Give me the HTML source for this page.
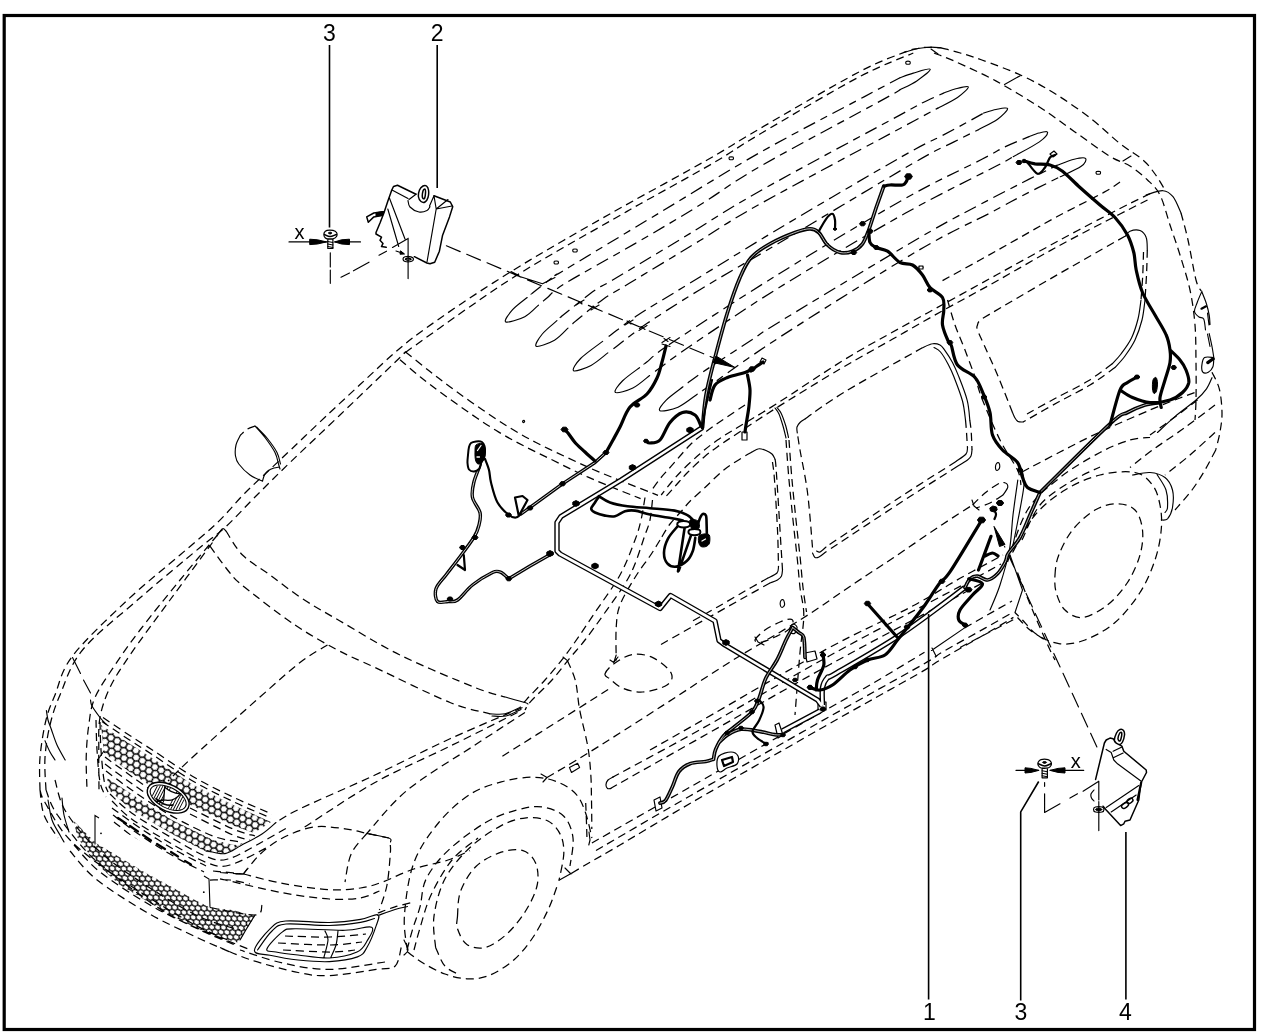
<!DOCTYPE html>
<html><head><meta charset="utf-8"><title>Wiring harness</title>
<style>
html,body{margin:0;padding:0;background:#fff;}
body{width:1280px;height:1033px;overflow:hidden;font-family:"Liberation Sans",sans-serif;}
svg{display:block;position:absolute;left:0;top:0;will-change:transform;}
text{font-family:"Liberation Sans",sans-serif;fill:#000;}
</style></head><body>
<svg width="1280" height="1033" viewBox="0 0 1280 1033">
<rect x="0" y="0" width="1280" height="1033" fill="#fff"/>
<rect x="4.2" y="15.5" width="1250.3" height="1014" fill="none" stroke="#000" stroke-width="3.2"/>
<path fill="none" stroke="#000" stroke-width="1.25" stroke-dasharray="8 5" d="M40.0 790.0C40.0 784.6 39.0 769.2 40.0 757.5C41.0 745.8 43.5 730.4 46.0 720.0C48.5 709.6 50.6 705.7 55.0 695.0C59.4 684.3 60.4 671.8 72.5 656.0C84.6 640.2 109.6 616.8 127.5 600.0C145.4 583.2 165.0 567.9 180.0 555.0C195.0 542.1 206.7 532.8 217.5 522.5C228.3 512.2 234.6 503.4 245.0 493.0C255.4 482.6 265.8 473.4 280.0 460.0C294.2 446.6 315.8 425.8 330.0 412.5C344.2 399.2 354.2 390.0 365.0 380.0C375.8 370.0 385.8 360.4 395.0 352.5C404.2 344.6 408.9 340.6 420.0 332.5C431.1 324.4 446.0 313.9 461.3 303.7C476.6 293.4 495.1 281.5 512.0 271.0C529.0 260.5 544.3 251.5 563.0 240.7C581.7 229.9 599.8 219.5 624.0 206.0C648.2 192.5 685.3 172.4 708.0 159.5C730.7 146.6 735.0 143.0 760.0 128.5C785.0 114.0 833.9 85.2 858.0 72.5C882.1 59.8 894.6 56.2 904.6 52.2C914.6 48.2 914.3 49.3 918.0 48.5C921.7 47.7 923.2 47.4 927.0 47.3C930.8 47.2 938.7 47.7 941.0 47.8M46.0 790.0C45.8 784.6 44.3 768.3 45.0 757.5C45.7 746.7 47.5 735.4 50.0 725.0C52.5 714.6 54.6 707.5 60.0 695.0C65.4 682.5 69.6 665.8 82.5 650.0C95.4 634.2 117.9 617.1 137.5 600.0C157.1 582.9 185.4 559.6 200.0 547.5C214.6 535.4 215.8 535.9 225.0 527.5C234.2 519.1 244.2 507.8 255.0 497.0C265.8 486.2 275.8 476.2 290.0 462.5C304.2 448.8 321.7 432.5 340.0 415.0C358.3 397.5 389.3 367.8 400.0 357.5C410.7 347.2 403.3 353.8 404.0 353.0M405.4 352.4C415.4 345.3 447.3 322.4 465.4 309.8C483.5 297.2 497.7 287.3 514.0 277.0C530.3 266.7 544.7 258.4 563.0 247.8C581.3 237.2 611.2 220.5 624.0 213.2C636.8 205.9 625.1 212.4 640.0 204.0C654.9 195.6 693.3 174.7 713.3 163.0C733.3 151.3 735.9 148.2 760.0 134.0C784.1 119.8 832.5 91.0 858.0 77.5C883.5 64.0 904.1 57.1 913.3 53.0M941.0 47.8C944.2 48.7 953.5 51.0 960.3 53.0C967.1 55.0 971.6 56.2 981.9 60.0C992.2 63.8 1009.5 69.9 1022.0 75.7C1034.5 81.5 1045.2 87.5 1056.8 94.8C1068.4 102.0 1081.1 111.1 1091.6 119.2C1102.1 127.3 1111.4 136.8 1120.0 143.6C1128.6 150.4 1137.2 154.9 1143.0 160.0C1148.8 165.1 1151.3 169.0 1155.0 174.0C1158.7 179.0 1163.3 187.3 1165.0 190.0M934.0 53.0C937.6 54.5 945.4 57.1 955.7 61.7C966.0 66.4 981.8 73.4 995.8 80.9C1009.8 88.5 1026.3 98.6 1039.4 107.0C1052.5 115.4 1062.6 123.3 1074.2 131.4C1085.8 139.5 1099.7 150.0 1109.0 155.8C1118.3 161.6 1123.6 162.0 1130.0 166.0C1136.4 170.0 1142.5 175.2 1147.5 180.0C1152.5 184.8 1156.2 187.5 1160.0 195.0C1163.8 202.5 1166.7 215.0 1170.0 225.0C1173.3 235.0 1176.7 244.2 1180.0 255.0C1183.3 265.8 1187.5 278.3 1190.0 290.0C1192.5 301.7 1194.0 312.9 1195.0 325.0C1196.0 337.1 1195.8 350.0 1196.0 362.5C1196.2 375.0 1196.2 390.4 1196.0 400.0C1195.8 409.6 1195.2 416.7 1195.0 420.0M405.5 352.0C409.6 355.2 421.8 365.1 430.0 371.5C438.2 377.9 446.0 384.0 454.7 390.3C463.4 396.6 472.9 403.3 482.0 409.5C491.1 415.7 500.4 422.0 509.4 427.5C518.4 433.0 526.9 437.8 536.0 442.5C545.1 447.2 554.8 451.7 564.0 456.0C573.2 460.3 581.9 464.5 591.0 468.5C600.1 472.5 607.6 475.5 618.8 480.0C630.0 484.5 651.5 492.8 658.0 495.3M400.0 359.7C403.5 362.7 413.7 371.7 421.0 377.5C428.3 383.3 435.4 388.6 443.8 394.7C452.1 400.8 461.9 407.8 471.0 414.0C480.1 420.2 489.4 426.5 498.4 431.9C507.4 437.3 515.9 441.8 525.0 446.5C534.1 451.2 543.8 455.8 553.0 460.3C562.2 464.8 570.9 469.3 580.0 473.5C589.1 477.7 597.7 481.3 607.8 485.5C617.9 489.7 635.1 496.4 640.6 498.6M1150.0 193.8C1145.0 196.2 1135.0 200.8 1120.0 208.5C1105.0 216.2 1080.5 228.9 1060.0 240.0C1039.5 251.1 1016.0 264.2 996.8 274.8C977.5 285.4 961.9 294.0 944.5 303.6C927.1 313.2 909.1 322.9 892.3 332.3C875.5 341.7 862.8 348.2 843.5 360.2C824.2 372.1 793.9 392.8 776.2 404.0C758.6 415.2 747.3 421.5 737.5 427.5C727.7 433.5 723.8 435.6 717.5 440.0C711.2 444.4 705.8 448.8 700.0 453.8C694.2 458.8 687.3 465.2 682.5 470.0C677.7 474.8 674.8 478.3 671.2 482.5C667.7 486.7 662.9 492.9 661.2 495.0M1147.5 200.0C1142.9 202.3 1134.6 206.5 1120.0 214.0C1105.4 221.5 1080.5 234.0 1060.0 245.2C1039.5 256.4 1016.0 270.2 996.8 281.0C977.5 291.8 961.9 300.0 944.5 309.7C927.1 319.4 909.7 329.4 892.3 339.3C874.9 349.2 859.3 357.6 840.0 369.0C820.7 380.4 793.1 397.4 776.2 408.0C759.4 418.6 748.1 426.3 738.8 432.5C729.4 438.7 725.6 441.0 720.0 445.0C714.4 449.0 710.4 451.7 705.0 456.2C699.6 460.8 692.3 467.7 687.5 472.5C682.7 477.3 679.8 481.0 676.2 485.0C672.7 489.0 667.9 494.4 666.2 496.2M745.0 405.0C741.2 407.5 729.2 415.4 722.5 420.0C715.8 424.6 710.4 428.3 705.0 432.5C699.6 436.7 695.6 439.4 690.0 445.0C684.4 450.6 676.2 460.6 671.2 466.2C666.2 471.9 663.5 474.4 660.0 478.8C656.5 483.1 651.7 490.2 650.0 492.5M1120.0 182.0C1117.3 183.7 1114.3 186.6 1103.8 192.4C1093.3 198.2 1071.3 209.0 1056.8 216.8C1042.3 224.6 1029.5 232.2 1016.7 239.4C1003.9 246.6 992.8 252.9 980.0 260.0C967.2 267.1 946.7 278.3 940.0 282.0M1125.0 236.2C1112.5 243.4 1072.5 266.0 1050.0 279.0C1027.5 292.0 1001.7 307.1 990.0 314.0C978.3 320.9 982.1 318.7 980.0 320.5C977.9 322.3 977.9 323.4 977.5 325.0C977.1 326.6 976.2 326.3 977.5 330.0C978.8 333.7 981.7 339.5 985.0 347.0C988.3 354.5 992.9 364.1 997.5 375.0C1002.1 385.9 1010.0 406.2 1012.5 412.5M1147.3 250.0C1147.2 254.2 1146.9 266.7 1146.5 275.0C1146.1 283.3 1145.2 295.8 1145.0 300.0M1115.0 367.5C1110.8 370.4 1099.6 379.2 1090.0 385.0C1080.4 390.8 1068.7 396.3 1057.5 402.5C1046.3 408.7 1028.8 418.8 1023.0 422.0M1143.5 252.0C1143.4 256.0 1143.1 268.0 1142.7 276.0C1142.3 284.0 1141.3 296.0 1141.0 300.0M1112.0 364.0C1108.0 366.8 1097.5 375.2 1088.0 381.0C1078.5 386.8 1065.2 393.0 1055.0 398.5C1044.8 404.0 1031.7 411.4 1027.0 414.0M1022.0 472.0C1028.3 468.7 1047.0 458.7 1060.0 452.0C1073.0 445.3 1085.0 439.0 1100.0 432.0C1115.0 425.0 1136.7 415.7 1150.0 410.0C1163.3 404.3 1172.3 401.0 1180.0 398.0C1187.7 395.0 1193.3 393.0 1196.0 392.0M1181.0 213.0C1182.2 217.5 1185.5 228.8 1188.0 240.0C1190.5 251.2 1193.8 271.5 1196.0 280.0C1198.2 288.5 1200.4 289.2 1201.2 291.0M1212.0 372.2C1213.2 375.0 1217.6 382.1 1219.3 388.8C1221.0 395.6 1221.9 405.5 1222.0 412.7C1222.1 419.9 1221.0 425.8 1220.0 432.0C1219.0 438.2 1216.4 447.0 1215.7 450.0M805.0 419.0C811.7 414.4 825.7 403.4 845.2 391.6C864.7 379.8 909.1 355.3 921.9 348.0M969.8 420.0C970.0 422.0 970.9 427.0 971.2 432.0C971.6 437.0 971.9 447.0 972.0 450.0M957.5 466.2C947.9 472.4 922.1 488.6 900.0 503.0C877.9 517.4 837.5 544.2 825.0 552.5M812.5 547.5C811.7 538.3 809.6 508.8 807.5 492.5C805.4 476.2 801.7 459.9 800.0 450.0C798.3 440.1 797.8 435.8 797.3 433.0M965.5 420.0C965.7 422.0 966.2 427.3 966.5 432.0C966.8 436.7 967.3 445.3 967.5 448.0M956.0 461.5C946.3 467.7 919.7 484.2 898.0 498.5C876.3 512.8 838.0 538.9 826.0 547.0M786.0 440.0C786.5 446.7 787.8 466.7 789.0 480.0C790.2 493.3 791.7 507.3 793.0 520.0C794.3 532.7 795.8 544.8 797.0 556.0C798.2 567.2 798.9 577.7 800.0 587.5C801.1 597.3 803.8 604.2 803.8 615.0C803.8 625.8 801.5 635.8 800.0 652.5C798.5 669.2 795.8 704.6 795.0 715.0M789.0 440.0C789.5 446.7 790.8 466.7 792.0 480.0C793.2 493.3 794.7 507.3 796.0 520.0C797.3 532.7 798.8 544.8 800.0 556.0C801.2 567.2 801.9 578.2 803.0 587.5C804.1 596.8 805.9 607.9 806.5 612.0M752.0 452.0C750.4 452.9 747.2 454.5 742.5 457.5C737.8 460.5 730.0 465.0 723.8 470.0C717.5 475.0 710.6 482.3 705.0 487.5C699.4 492.7 693.8 497.5 690.0 501.2C686.2 505.0 685.8 506.2 682.5 510.0C679.2 513.8 673.8 519.0 670.0 524.0C666.2 529.0 661.7 537.3 660.0 540.0M775.0 459.0C775.2 460.8 775.4 458.2 776.2 470.0C777.1 481.8 779.0 513.3 780.0 530.0C781.0 546.7 782.1 563.3 782.5 570.0M770.0 583.0C765.8 585.3 753.8 592.1 745.0 597.0C736.2 601.9 726.7 607.3 717.5 612.5C708.3 617.7 699.6 622.6 690.0 628.0C680.4 633.4 665.0 642.2 660.0 645.0M772.5 462.0C772.8 465.0 773.7 468.7 774.5 480.0C775.3 491.3 776.8 515.5 777.5 530.0C778.2 544.5 778.3 560.8 778.5 567.0M768.0 578.0C764.2 580.2 753.4 586.2 745.0 591.0C736.6 595.8 726.7 601.8 717.5 607.0C708.3 612.2 694.6 619.9 690.0 622.5M972.5 505.0C974.6 503.0 980.8 496.5 985.0 493.0C989.2 489.5 994.8 485.8 998.0 484.0C1001.2 482.2 1003.0 482.8 1004.0 482.5M1003.0 495.0C1000.8 496.3 994.5 500.8 990.0 503.0C985.5 505.2 978.3 507.2 976.0 508.0M947.5 300.0C948.8 304.2 952.1 316.7 955.0 325.0C957.9 333.3 961.7 341.3 965.0 350.0C968.3 358.7 972.1 368.7 975.0 377.0C977.9 385.3 978.3 389.5 982.5 400.0C986.7 410.5 994.2 428.3 1000.0 440.0C1005.8 451.7 1014.0 462.5 1017.5 470.0C1021.0 477.5 1020.4 482.5 1021.0 485.0M645.0 497.5C644.3 501.2 642.7 512.9 641.0 520.0C639.3 527.1 638.5 530.8 635.0 540.0C631.5 549.2 626.7 562.9 620.0 575.0C613.3 587.1 602.5 601.3 595.0 612.5C587.5 623.7 580.6 634.0 575.0 642.0C569.4 650.0 566.3 654.3 561.3 660.6C556.3 666.9 550.8 673.5 545.0 680.0C539.2 686.5 530.9 694.7 526.7 699.3C522.5 703.9 521.1 706.1 520.0 707.5M652.5 500.0C652.1 503.3 651.2 514.2 650.0 520.0C648.8 525.8 648.3 525.8 645.0 535.0C641.7 544.2 636.7 562.1 630.0 575.0C623.3 587.9 612.5 601.7 605.0 612.5C597.5 623.3 590.9 632.3 585.0 640.0C579.1 647.7 574.9 651.9 569.4 658.6C563.9 665.3 558.4 672.9 552.0 680.0C545.6 687.1 535.3 696.3 530.8 701.3C526.3 706.3 526.0 708.5 525.0 710.0M660.0 540.0C658.3 542.7 654.2 549.8 650.0 556.0C645.8 562.2 640.0 569.3 635.0 577.5C630.0 585.7 623.1 596.7 620.0 605.0C616.9 613.3 616.9 618.2 616.2 627.5C615.6 636.8 616.2 655.1 616.2 660.6M605.0 673.9C605.7 671.4 609.4 666.9 614.0 663.7C618.6 660.5 625.9 655.6 632.4 654.6C638.9 653.6 646.4 654.6 652.8 657.6C659.2 660.6 668.6 668.2 671.0 672.8C673.4 677.4 671.7 681.8 667.0 685.0C662.3 688.2 650.1 691.5 642.6 692.0C635.1 692.5 627.7 690.2 622.3 688.0C616.9 685.8 612.9 681.4 610.0 679.0C607.1 676.6 604.3 676.4 605.0 673.9ZM567.4 660.6C568.8 664.0 573.5 672.9 575.5 681.0C577.5 689.1 577.6 698.6 579.6 709.4C581.6 720.2 585.8 735.1 587.7 746.0C589.6 756.9 590.2 765.5 590.8 774.5C591.4 783.5 591.3 790.9 591.5 800.0C591.7 809.1 591.8 824.2 591.8 829.0M585.7 803.0C585.9 807.3 586.5 822.5 586.7 829.0C586.9 835.5 587.0 839.8 587.0 842.0M502.4 756.2C512.0 750.2 541.7 731.5 560.0 720.0C578.3 708.5 603.3 692.5 612.0 687.0M547.0 777.5C554.1 773.2 570.5 764.0 589.8 752.0C609.1 740.0 639.3 720.6 663.0 705.4C686.7 690.2 708.9 675.1 732.0 660.7C755.1 646.3 781.1 632.0 801.6 619.0C822.1 606.0 839.8 593.2 855.0 583.0C870.2 572.8 878.8 567.5 893.0 558.0C907.2 548.5 926.8 534.8 940.0 526.0C953.2 517.2 967.1 508.5 972.5 505.0M650.0 750.0C658.3 745.3 670.7 738.4 700.0 721.6C729.3 704.8 790.8 668.5 826.0 649.4C861.2 630.2 889.1 618.6 911.4 606.7C933.7 594.9 944.7 586.9 960.0 578.3C975.3 569.7 995.8 558.9 1003.0 555.0M612.0 777.5C626.7 769.5 663.7 750.0 700.0 729.7C736.3 709.4 786.7 679.4 830.0 655.5C873.3 631.6 931.5 601.6 960.0 586.4C988.5 571.1 994.2 567.7 1001.0 564.0M610.0 788.7C625.0 780.2 663.3 758.7 700.0 738.0C736.7 717.3 786.7 688.3 830.0 664.5C873.3 640.7 932.2 609.9 960.0 595.0C987.8 580.1 990.8 578.3 997.0 575.0M591.9 843.0C608.3 833.6 652.4 808.5 690.4 786.9C728.4 765.3 789.7 730.4 820.0 713.2C850.3 696.0 854.9 693.8 872.3 683.6C889.7 673.5 915.8 657.5 924.5 652.3M964.6 627.9L1012.0 601.0M596.0 850.5C611.7 841.4 653.1 817.1 690.4 795.7C727.7 774.3 781.3 743.9 820.0 722.0C858.7 700.1 902.5 676.1 922.8 664.5C943.1 652.9 931.5 658.4 942.0 652.3C952.5 646.2 973.9 634.4 985.5 627.9C997.1 621.4 1007.2 615.5 1011.6 613.0M572.0 873.0C574.8 871.3 580.8 867.7 588.8 863.0C596.8 858.3 603.1 855.0 620.0 845.0C636.9 835.0 657.1 822.6 690.4 803.3C723.7 784.0 781.9 750.7 820.0 729.0C858.1 707.3 899.5 684.5 919.3 673.2C939.0 661.9 927.2 667.7 938.5 661.0C949.8 654.3 974.7 640.3 987.2 633.0C999.7 625.7 1009.0 620.0 1013.4 617.4M755.0 640.0C755.5 638.0 760.8 633.0 765.0 630.0C769.2 627.0 775.8 623.8 780.0 622.0C784.2 620.2 787.8 619.0 790.0 619.0C792.2 619.0 793.3 620.2 793.0 622.0C792.7 623.8 791.0 627.5 788.0 630.0C785.0 632.5 779.3 635.0 775.0 637.0C770.7 639.0 765.3 641.5 762.0 642.0C758.7 642.5 754.5 642.0 755.0 640.0ZM1055.0 575.0C1055.4 568.8 1055.8 562.5 1058.8 555.0C1061.7 547.5 1066.5 537.5 1072.5 530.0C1078.5 522.5 1087.5 514.4 1095.0 510.0C1102.5 505.6 1110.8 503.8 1117.5 503.8C1124.2 503.8 1130.8 505.6 1135.0 510.0C1139.2 514.4 1141.7 522.5 1142.5 530.0C1143.3 537.5 1142.5 546.2 1140.0 555.0C1137.5 563.8 1132.9 574.2 1127.5 582.5C1122.1 590.8 1115.0 599.2 1107.5 605.0C1100.0 610.8 1089.6 616.7 1082.5 617.5C1075.4 618.3 1069.4 614.2 1065.0 610.0C1060.6 605.8 1057.9 598.3 1056.2 592.5C1054.6 586.7 1054.6 581.2 1055.0 575.0ZM1012.5 552.5C1016.2 546.2 1026.2 525.4 1035.0 515.0C1043.8 504.6 1054.2 496.7 1065.0 490.0C1075.8 483.3 1088.3 477.9 1100.0 475.0C1111.7 472.1 1126.2 470.8 1135.0 472.5C1143.8 474.2 1148.3 479.6 1152.5 485.0C1156.7 490.4 1158.5 497.5 1160.0 505.0C1161.5 512.5 1162.1 520.8 1161.2 530.0C1160.4 539.2 1158.5 549.6 1155.0 560.0C1151.5 570.4 1146.7 582.1 1140.0 592.5C1133.3 602.9 1124.2 614.6 1115.0 622.5C1105.8 630.4 1094.2 636.5 1085.0 640.0C1075.8 643.5 1067.9 644.6 1060.0 643.8C1052.1 642.9 1043.8 639.0 1037.5 635.0C1031.2 631.0 1026.2 623.8 1022.5 620.0C1018.8 616.2 1016.2 613.8 1015.0 612.5M1007.5 562.0C1010.8 553.3 1018.8 524.1 1027.5 510.0C1036.2 495.9 1047.9 487.1 1060.0 477.5C1072.1 467.9 1088.3 458.8 1100.0 452.5C1111.7 446.2 1121.7 442.5 1130.0 440.0C1138.3 437.5 1146.7 437.9 1150.0 437.5M1022.0 540.0C1025.0 534.2 1032.0 514.7 1040.0 505.0C1048.0 495.3 1060.0 488.3 1070.0 482.0C1080.0 475.7 1095.0 469.5 1100.0 467.0M1215.7 450.0C1213.9 453.3 1209.0 463.3 1205.0 470.0C1201.0 476.7 1197.0 483.3 1192.0 490.0C1187.0 496.7 1177.8 506.7 1175.0 510.0M1215.0 405.0C1210.0 408.8 1195.4 420.0 1185.0 427.5C1174.6 435.0 1161.7 443.3 1152.5 450.0C1143.3 456.7 1133.8 464.6 1130.0 467.5M1197.5 400.0C1193.8 402.8 1182.9 411.2 1175.0 417.0C1167.1 422.8 1154.2 432.0 1150.0 435.0M1215.0 432.5C1210.8 436.2 1198.3 447.9 1190.0 455.0C1181.7 462.1 1169.2 471.7 1165.0 475.0M1017.5 572.5C1020.0 578.8 1027.1 597.1 1032.5 610.0C1037.9 622.9 1046.2 641.7 1050.0 650.0C1053.8 658.3 1054.2 658.3 1055.0 660.0M960.0 647.5L1017.5 617.5M1017.5 617.5C1019.6 619.6 1025.4 626.2 1030.0 630.0C1034.6 633.8 1042.5 638.3 1045.0 640.0M255.0 426.0C253.8 426.5 249.9 427.5 247.5 429.0C245.1 430.5 241.7 434.0 240.5 435.0M226.0 531.0C228.8 535.0 235.2 547.7 242.5 555.0C249.8 562.3 260.0 567.7 270.0 575.0C280.0 582.3 290.8 591.1 302.5 598.8C314.2 606.4 323.8 611.6 340.0 621.0C356.2 630.4 377.5 643.9 400.0 655.0C422.5 666.1 457.5 680.5 475.0 687.5C492.5 694.5 500.0 695.4 505.0 697.0M210.0 546.2C213.3 550.7 224.2 566.1 230.0 573.0C235.8 579.9 234.2 578.8 245.0 587.5C255.8 596.2 279.6 614.6 295.0 625.0C310.4 635.4 324.2 642.9 337.5 650.0C350.8 657.1 356.2 658.8 375.0 667.5C393.8 676.2 430.8 694.8 450.0 702.5C469.2 710.2 483.3 711.9 490.0 713.8M327.5 645.0C322.9 647.9 311.2 653.8 300.0 662.5C288.8 671.2 277.5 681.6 260.0 697.0C242.5 712.4 210.3 741.0 195.0 755.0C179.7 769.0 172.5 776.7 168.0 781.0M217.5 535.0C211.2 542.5 192.9 564.2 180.0 580.0C167.1 595.8 150.8 615.8 140.0 630.0C129.2 644.2 122.5 653.8 115.0 665.0C107.5 676.2 99.4 687.5 95.0 697.5C90.6 707.5 90.2 715.0 88.8 725.0C87.3 735.0 86.5 746.7 86.2 757.5C86.0 768.3 86.9 784.6 87.0 790.0M212.5 542.5C205.4 552.1 183.8 581.2 170.0 600.0C156.2 618.8 140.0 640.4 130.0 655.0C120.0 669.6 115.0 677.1 110.0 687.5C105.0 697.9 101.9 707.1 100.0 717.5C98.1 727.9 98.9 737.9 98.8 750.0C98.6 762.1 99.0 783.3 99.0 790.0M522.5 707.5C510.4 712.7 474.6 727.5 450.0 738.8C425.4 750.0 400.0 763.3 375.0 775.0C350.0 786.7 316.5 800.8 300.0 808.8C283.5 816.7 280.0 820.2 276.0 822.5M517.5 712.5C506.2 718.1 473.8 734.6 450.0 746.2C426.2 757.9 399.3 769.0 375.0 782.5C350.7 796.0 316.2 819.8 304.4 827.2M525.0 712.5C516.7 717.9 494.6 732.1 475.0 745.0C455.4 757.9 425.5 775.3 407.5 790.0C389.5 804.7 373.7 826.2 366.9 833.4M407.5 950.6C407.0 944.9 403.4 930.9 404.4 916.2C405.4 901.6 408.0 878.6 413.8 863.0C419.5 847.4 429.4 833.9 438.8 822.5C448.1 811.1 459.6 801.2 470.0 794.4C480.4 787.6 490.8 784.8 501.2 781.9C511.7 779.0 523.1 777.2 532.5 777.2C541.9 777.2 550.2 779.0 557.5 781.9C564.8 784.8 571.6 789.2 576.2 794.4C580.9 799.6 583.0 805.7 585.6 813.0C588.2 820.3 590.9 833.8 591.9 838.0M407.0 950.0C408.0 946.3 410.8 935.2 413.0 928.0C415.2 920.8 417.8 915.1 420.0 906.9C422.2 898.7 421.6 888.1 426.2 878.8C430.9 869.4 438.1 860.0 448.0 850.6C457.9 841.2 474.1 829.3 485.6 822.5C497.1 815.7 507.5 812.6 516.9 810.0C526.3 807.4 534.1 805.9 541.9 806.9C549.7 807.9 558.6 811.1 563.8 816.2C568.9 821.4 572.0 829.7 573.0 838.0C574.0 846.3 570.5 861.3 570.0 866.0M435.6 947.5C435.3 942.3 432.4 927.7 434.0 916.2C435.6 904.8 439.0 890.2 445.0 878.8C451.0 867.3 460.6 856.4 470.0 847.5C479.4 838.6 491.9 830.6 501.2 825.6C510.6 820.6 518.5 818.6 526.2 817.8C534.0 817.0 542.3 818.1 548.0 821.0C553.7 823.9 558.0 829.5 560.6 835.0C563.2 840.5 564.0 846.2 563.8 853.8C563.5 861.3 559.8 875.9 559.0 880.3M407.5 952.0C410.1 953.8 416.8 959.3 423.0 963.0C429.2 966.7 437.7 971.4 445.0 974.0C452.3 976.6 459.6 978.5 466.9 978.8C474.2 979.0 480.9 978.7 488.8 975.6C496.6 972.5 506.5 966.3 513.8 960.0C521.0 953.7 526.8 946.3 532.5 938.0C538.2 929.7 543.8 918.8 548.0 910.0C552.2 901.2 555.9 889.2 557.5 885.0M435.6 947.5C437.2 950.6 440.9 961.7 445.0 966.2C449.1 970.8 457.5 973.5 460.0 975.0M457.5 916.2C458.0 910.0 457.5 899.6 460.6 891.2C463.7 882.9 469.5 872.8 476.2 866.2C483.0 859.7 493.5 854.8 501.2 852.2C509.0 849.6 517.3 848.8 523.0 850.6C528.7 852.4 533.2 857.3 535.6 863.0C538.0 868.7 538.8 877.2 537.2 885.0C535.6 892.8 531.2 901.9 526.2 910.0C521.3 918.1 514.3 927.1 507.5 933.4C500.7 939.6 492.4 945.7 485.6 947.5C478.8 949.3 471.6 947.5 466.9 944.4C462.2 941.3 459.1 933.4 457.5 928.8C455.9 924.1 457.0 922.5 457.5 916.2ZM414.0 950.0C415.0 946.3 417.2 937.2 420.0 928.0C422.8 918.8 425.7 906.3 431.0 895.0C436.3 883.7 444.2 869.5 452.0 860.0C459.8 850.5 473.7 841.7 478.0 838.0M243.4 874.0C246.3 870.6 254.1 859.8 260.6 853.8C267.1 847.8 273.6 842.5 282.5 838.0C291.4 833.5 303.3 828.5 313.8 827.0C324.2 825.5 336.1 827.7 345.0 828.8C353.9 829.8 359.6 831.9 366.9 833.4C374.2 834.9 385.1 837.2 388.8 838.0M390.3 845.0C390.3 846.5 390.9 847.1 390.3 853.8C389.8 860.4 388.8 875.6 387.0 885.0C385.2 894.4 380.7 905.8 379.4 910.0M243.4 874.0C249.9 875.6 268.2 880.8 282.5 883.4C296.8 886.0 316.4 888.9 329.4 889.7C342.4 890.5 351.8 889.3 360.6 888.0C369.5 886.7 373.6 885.2 382.5 882.0C391.4 878.8 402.8 872.7 413.8 869.0C424.7 865.3 438.6 863.1 448.0 860.0C457.4 856.9 466.3 852.2 470.0 850.6M366.9 833.4C364.3 836.8 354.9 845.6 351.2 853.8C347.6 861.9 346.0 877.3 345.0 882.0M220.0 872.5L243.4 874.0M220.0 878.8C230.4 881.1 264.3 889.4 282.5 892.8C300.7 896.2 316.5 898.1 329.4 899.0C342.3 899.9 351.7 899.3 360.0 898.0C368.3 896.7 376.2 892.2 379.4 891.0M285.0 936.0C292.5 936.2 316.5 937.3 330.0 937.0C343.5 936.7 360.0 934.5 366.0 934.0M278.0 943.0C286.7 943.3 316.0 945.2 330.0 945.0C344.0 944.8 356.7 942.5 362.0 942.0M283.0 950.0C290.8 950.3 318.0 952.0 330.0 952.0C342.0 952.0 350.8 950.3 355.0 950.0M377.8 913.0C380.7 912.0 389.0 908.7 395.0 906.9C401.0 905.1 410.6 902.8 413.8 902.0M401.2 947.5C400.2 950.6 399.2 962.6 395.0 966.2C390.8 969.9 387.2 967.8 376.2 969.4C365.3 971.0 342.4 975.1 329.4 975.6C316.4 976.1 311.0 975.1 298.0 972.5C285.0 969.9 264.2 964.2 251.2 960.0C238.2 955.8 225.2 949.6 220.0 947.5M385.0 962.0C375.7 963.2 346.5 969.2 329.4 969.4C312.3 969.6 297.4 966.2 282.5 963.0C267.6 959.8 247.1 952.2 240.0 950.0M102.0 721.6C106.3 724.5 119.5 733.4 128.0 739.0C136.5 744.6 142.1 747.9 153.0 755.0C163.9 762.1 180.1 773.7 193.6 781.5C207.1 789.3 221.1 795.9 234.0 802.0C246.9 808.1 264.8 815.3 271.0 818.0M103.0 717.6C107.3 720.5 120.5 729.4 129.0 735.0C137.5 740.6 143.1 743.9 154.0 751.0C164.9 758.1 181.1 769.7 194.6 777.5C208.1 785.3 222.1 791.9 235.0 798.0C247.9 804.1 265.8 811.3 272.0 814.0M100.0 722.0C100.2 726.7 100.3 740.3 101.0 750.0C101.7 759.7 102.8 773.0 104.0 780.0C105.2 787.0 107.3 790.0 108.0 792.0M96.0 720.0C96.2 725.0 96.3 739.7 97.0 750.0C97.7 760.3 98.5 774.2 100.0 782.0C101.5 789.8 105.0 794.5 106.0 797.0M105.0 757.0C109.3 760.2 121.0 768.8 131.0 776.0C141.0 783.2 159.3 796.0 165.0 800.0M105.0 764.0C109.3 767.2 121.8 776.5 131.0 783.0C140.2 789.5 155.2 799.7 160.0 803.0M106.0 771.0C110.2 774.1 120.3 782.2 131.0 789.5C141.7 796.8 156.3 807.2 170.0 815.0C183.7 822.8 201.3 831.5 213.0 836.0C224.7 840.5 235.5 841.0 240.0 842.0M190.0 808.0C197.2 811.5 222.2 824.3 233.0 829.0C243.8 833.7 251.3 834.8 255.0 836.0M190.0 814.0C197.2 817.5 223.0 830.7 233.0 835.0C243.0 839.3 247.2 839.2 250.0 840.0M110.0 794.0C113.6 797.2 121.3 805.7 131.6 813.0C141.9 820.3 159.5 830.7 172.0 838.0C184.5 845.3 197.5 853.1 206.8 856.6C216.1 860.1 218.8 861.4 228.0 859.0C237.2 856.6 251.7 847.5 262.0 842.0C272.3 836.5 285.3 828.7 290.0 826.0M112.0 801.0C115.3 804.0 121.6 811.8 131.6 819.0C141.6 826.2 159.5 836.7 172.0 844.0C184.5 851.3 197.1 859.1 206.8 862.6C216.5 866.1 219.5 867.8 230.0 865.0C240.5 862.2 263.3 849.2 270.0 846.0M40.0 790.0C40.8 792.1 40.0 794.2 45.0 802.5C50.0 810.8 57.5 827.1 70.0 840.0C82.5 852.9 103.3 867.5 120.0 880.0C136.7 892.5 153.3 905.4 170.0 915.0C186.7 924.6 206.5 931.7 220.0 937.5C233.5 943.3 245.8 947.9 251.0 950.0M46.0 790.0C47.9 794.2 49.3 803.3 57.5 815.0C65.7 826.7 80.4 846.7 95.0 860.0C109.6 873.3 128.3 884.2 145.0 895.0C161.7 905.8 181.2 917.5 195.0 925.0C208.8 932.5 222.1 937.5 227.5 940.0M55.0 780.0C56.8 785.3 58.5 800.0 66.0 812.0C73.5 824.0 86.0 839.3 100.0 852.0C114.0 864.7 133.3 877.2 150.0 888.0C166.7 898.8 185.0 910.0 200.0 917.0C215.0 924.0 233.3 927.8 240.0 930.0M40.0 790.0C40.7 794.2 41.0 807.0 44.0 815.0C47.0 823.0 55.7 834.2 58.0 838.0M74.0 845.0C78.3 849.5 87.3 862.0 100.0 872.0C112.7 882.0 133.3 895.3 150.0 905.0C166.7 914.7 185.8 923.3 200.0 930.0C214.2 936.7 229.2 942.5 235.0 945.0M70.0 851.0C74.3 855.7 83.3 868.8 96.0 879.0C108.7 889.2 129.3 902.3 146.0 912.0C162.7 921.7 182.0 930.3 196.0 937.0C210.0 943.7 224.3 949.5 230.0 952.0M112.0 808.0C116.7 811.3 129.5 821.0 140.0 828.0C150.5 835.0 164.0 843.7 175.0 850.0C186.0 856.3 200.8 863.3 206.0 866.0M113.0 815.0C117.5 818.3 129.7 828.0 140.0 835.0C150.3 842.0 164.3 850.8 175.0 857.0C185.7 863.2 199.2 869.5 204.0 872.0M114.0 822.0C118.3 825.3 129.8 835.0 140.0 842.0C150.2 849.0 164.7 858.0 175.0 864.0C185.3 870.0 197.5 875.7 202.0 878.0M213.0 871.0C215.0 871.2 219.9 871.5 225.0 872.0C230.1 872.5 240.3 873.7 243.4 874.0M210.0 880.0C213.3 880.0 223.3 879.3 230.0 880.0C236.7 880.7 246.7 883.3 250.0 884.0M210.0 907.5C217.5 908.8 246.3 915.4 255.0 915.0C263.7 914.6 260.8 906.7 262.0 905.0"/>
<path fill="none" stroke="#000" stroke-width="1.25" stroke-dasharray="13 6 7.5 6" d="M531.4 294.0C531.8 293.8 529.4 295.5 533.5 292.3C537.6 289.1 551.0 278.4 556.0 274.8C561.0 271.2 546.2 281.0 563.5 270.6C580.8 260.2 627.2 232.2 660.0 212.5C692.8 192.8 725.9 171.8 760.0 152.5C794.1 133.2 841.2 109.0 864.5 96.6C887.8 84.1 894.1 80.9 900.0 77.8M543.0 301.3C543.7 300.7 543.8 300.5 547.5 297.5C551.2 294.5 550.4 292.5 565.0 283.5C579.6 274.5 612.6 256.6 635.0 243.6C657.4 230.6 678.6 218.2 699.4 205.3C720.2 192.5 729.6 184.0 760.0 166.5C790.4 149.0 858.7 112.9 882.0 100.1C905.3 87.3 897.0 91.5 900.0 89.8M561.1 316.9C561.5 316.6 557.6 319.4 563.2 315.0C568.8 310.6 586.3 296.3 594.5 290.5C602.7 284.7 597.7 288.9 612.3 280.2C626.9 271.5 657.4 253.3 682.0 238.4C706.6 223.5 723.1 211.9 760.0 191.0C796.9 170.1 876.4 127.8 903.5 113.1C930.6 98.4 915.9 106.0 922.6 102.7C929.3 99.4 940.1 94.7 943.6 93.1M572.5 324.0C573.2 323.4 571.9 324.1 577.0 320.0C582.1 315.9 594.4 305.4 603.2 299.2C612.0 293.0 613.6 292.8 629.7 283.0C645.8 273.2 678.3 253.7 700.0 240.5C721.7 227.3 724.4 223.9 760.0 204.0C795.6 184.1 884.2 137.0 913.9 121.0C943.6 105.0 934.2 110.1 938.3 107.9M608.9 336.4C609.4 336.0 607.1 337.6 612.0 334.0C616.9 330.4 626.3 322.7 638.0 315.0C649.7 307.3 658.3 302.5 682.0 288.0C705.7 273.5 743.4 249.9 780.0 228.0C816.6 206.1 874.7 172.1 901.7 156.7C928.7 141.3 930.8 141.6 941.8 135.8C952.8 130.0 961.0 125.6 968.0 121.8C975.0 118.0 981.0 114.5 983.6 113.1M613.4 348.7C614.3 348.0 613.4 348.7 619.0 344.5C624.6 340.3 633.4 332.7 646.8 323.6C660.2 314.5 677.2 303.5 699.4 290.0C721.6 276.5 744.2 263.7 780.0 242.5C815.8 221.3 884.9 179.6 913.9 162.8C942.9 146.0 943.2 147.4 954.0 141.9C964.8 136.4 974.3 131.7 978.4 129.7M644.4 363.9C644.8 363.6 642.0 365.6 646.8 362.0C651.6 358.4 650.8 356.8 673.0 342.0C695.2 327.2 741.6 297.0 780.0 273.2C818.4 249.4 869.9 218.4 903.5 199.4C937.1 180.4 965.1 168.0 981.9 159.3C998.7 150.6 996.6 150.9 1004.5 147.1C1012.4 143.3 1024.9 138.4 1029.0 136.7M655.1 371.4C656.1 370.7 654.7 371.5 660.7 367.2C666.7 362.9 671.1 358.9 691.0 345.5C710.9 332.1 744.3 309.0 780.0 287.0C815.7 265.0 869.2 233.4 905.2 213.3C941.2 193.2 977.8 175.7 995.8 166.3C1013.8 156.9 1010.3 158.3 1013.2 156.7M687.9 382.9C688.3 382.6 686.6 383.6 690.3 381.0C694.0 378.4 699.8 374.0 710.0 367.2C720.2 360.4 739.9 347.6 751.6 340.0C763.3 332.4 752.1 338.5 780.0 321.5C807.9 304.5 886.2 257.2 919.0 238.0C951.8 218.8 959.5 215.5 976.7 206.3C993.9 197.1 1008.6 189.6 1022.0 182.8C1035.3 176.0 1051.0 168.3 1056.8 165.4M703.6 389.8C704.7 389.1 697.3 394.3 710.0 385.5C722.7 376.7 745.4 359.4 780.0 337.0C814.6 314.6 882.4 271.7 917.4 251.0C952.4 230.3 972.6 222.2 990.0 213.0C1007.4 203.8 1010.3 202.0 1022.0 195.9C1033.7 189.8 1053.9 179.9 1060.3 176.7"/>
<path fill="#fff" stroke="#000" stroke-width="1.2" stroke-linejoin="round" d="M742.0 432.0L747.0 432.0L747.0 440.0L742.0 440.0ZM818.0 702.0L826.0 702.0L826.0 710.0L818.0 710.0ZM775.0 725.0L779.0 723.0L783.0 735.0L778.0 738.0ZM654.0 800.0L660.0 797.0L662.0 808.0L656.0 811.0ZM719.0 756.0C721.3 753.7 727.8 752.0 731.0 752.0C734.2 752.0 737.0 754.0 738.0 756.0C739.0 758.0 738.8 762.0 737.0 764.0C735.2 766.0 729.8 766.7 727.0 768.0C724.2 769.3 721.7 772.3 720.0 772.0C718.3 771.7 717.2 768.7 717.0 766.0C716.8 763.3 716.7 758.3 719.0 756.0ZM805.0 653.0L815.0 651.0L817.0 659.0L807.0 662.0ZM324.3 232.5C324.8 231.5 325.6 230.8 327.0 230.4C328.4 230.1 331.4 230.1 333.0 230.4C334.6 230.8 335.9 231.5 336.5 232.5C337.1 233.5 337.1 235.4 336.5 236.5C335.9 237.6 334.6 238.4 333.0 238.8C331.4 239.2 328.4 239.2 327.0 238.8C325.6 238.4 324.8 237.6 324.3 236.5C323.9 235.4 323.9 233.5 324.3 232.5ZM327.8 238.8L332.9 238.8L332.9 248.5L327.8 248.5ZM403.0 259.0C403.0 258.2 403.7 257.2 405.0 256.8C406.3 256.4 409.6 256.4 411.0 256.8C412.4 257.2 413.5 258.2 413.5 259.0C413.5 259.8 412.4 261.1 411.0 261.5C409.6 261.9 406.3 261.9 405.0 261.5C403.7 261.1 403.0 259.8 403.0 259.0ZM1038.3 762.0C1038.8 761.0 1039.4 760.0 1041.0 759.6C1042.6 759.2 1046.3 759.2 1048.0 759.6C1049.7 760.0 1050.5 761.0 1051.0 762.0C1051.5 763.0 1051.5 764.5 1051.0 765.5C1050.5 766.5 1049.7 767.6 1048.0 768.0C1046.3 768.4 1042.6 768.4 1041.0 768.0C1039.4 767.6 1038.8 766.5 1038.3 765.5C1037.8 764.5 1037.8 763.0 1038.3 762.0ZM1042.1 768.0L1047.4 768.0L1047.4 777.8L1042.1 777.8ZM1093.5 809.4C1093.5 808.6 1094.1 807.4 1095.5 807.0C1096.9 806.6 1100.6 806.6 1102.0 807.0C1103.4 807.4 1104.0 808.6 1104.0 809.4C1104.0 810.2 1103.4 811.6 1102.0 812.0C1100.6 812.4 1096.9 812.4 1095.5 812.0C1094.1 811.6 1093.5 810.2 1093.5 809.4Z"/>
<path fill="none" stroke="#000" stroke-width="1.15" stroke-linecap="round" stroke-linejoin="round" d="M662.0 344.0L670.0 346.5M919.0 266.0L923.0 266.0L923.0 269.0L919.0 269.0ZM762.0 358.0L766.0 360.0L764.0 364.0L760.0 362.0ZM1050.0 154.0L1054.0 151.0L1057.0 154.0L1053.0 157.0ZM790.0 628.0C790.3 626.5 791.8 624.2 793.0 624.0C794.2 623.8 796.7 625.5 797.0 627.0C797.3 628.5 796.0 632.0 795.0 633.0C794.0 634.0 791.8 633.8 791.0 633.0C790.2 632.2 789.7 629.5 790.0 628.0ZM1004.5 84.4L1020.2 75.7M1123.0 161.0L1131.0 156.0M931.0 49.0L938.0 54.0M904.0 52.5C906.3 51.8 913.7 49.4 918.0 48.5C922.3 47.6 926.2 47.3 930.0 47.2C933.8 47.1 939.2 47.7 941.0 47.8M527.2 297.5C524.8 299.5 516.2 305.6 512.6 309.7C509.0 313.8 503.7 320.7 505.7 321.9C507.7 323.1 519.3 319.5 524.8 316.7C530.3 313.9 536.1 307.1 538.4 305.2M900.0 77.8C902.2 77.0 908.3 74.5 913.3 73.1C918.3 71.7 929.6 67.9 930.2 69.2C930.8 70.5 921.8 77.5 916.8 80.9C911.8 84.3 902.8 88.3 900.0 89.8M556.9 320.7C554.5 322.9 545.8 329.7 542.3 334.0C538.8 338.3 534.2 345.3 536.2 346.3C538.2 347.3 549.2 343.2 554.5 340.2C559.8 337.2 565.8 330.1 568.0 328.1M943.6 93.1C945.5 92.4 950.9 90.0 955.0 89.0C959.1 88.0 967.9 85.5 968.3 86.9C968.7 88.3 962.5 94.0 957.5 97.5C952.5 101.0 941.5 106.2 938.3 107.9M602.6 341.4C598.9 344.2 585.4 353.6 580.6 358.5C575.8 363.4 571.9 369.6 573.6 370.7C575.3 371.8 585.3 368.4 591.0 365.4C596.7 362.4 605.0 354.9 607.8 352.9M983.6 113.1C985.7 112.5 992.0 110.2 996.0 109.5C1000.0 108.8 1007.3 107.0 1007.6 108.6C1007.9 110.2 1002.5 115.7 997.6 119.2C992.7 122.7 981.6 127.9 978.4 129.7M639.5 367.7C636.6 369.9 626.4 376.9 622.4 381.0C618.4 385.1 613.6 391.2 615.4 392.4C617.1 393.6 627.2 390.8 632.9 388.0C638.6 385.2 646.8 377.6 649.6 375.5M1029.0 136.7C1030.7 136.1 1035.9 133.7 1039.0 133.0C1042.1 132.3 1047.5 130.8 1047.6 132.3C1047.7 133.8 1045.1 137.8 1039.4 141.9C1033.7 146.0 1017.6 154.2 1013.2 156.7M683.0 386.8C680.2 389.0 669.9 396.3 666.0 400.3C662.1 404.3 657.9 409.6 659.9 410.7C661.9 411.8 671.8 410.0 678.0 407.2C684.2 404.4 694.0 396.4 697.2 394.2M1056.8 165.4C1059.7 164.4 1069.4 160.5 1074.2 159.3C1079.0 158.1 1084.3 157.2 1085.5 158.4C1086.7 159.6 1085.4 163.2 1081.2 166.3C1077.0 169.4 1063.8 175.0 1060.3 176.7M554.5 261.3C555.1 260.9 557.4 260.9 558.0 261.3C558.6 261.7 558.6 263.3 558.0 263.7C557.4 264.1 555.1 264.1 554.5 263.7C553.9 263.3 553.9 261.7 554.5 261.3ZM573.2 249.3C573.8 248.9 576.2 248.9 576.8 249.3C577.4 249.7 577.4 251.3 576.8 251.7C576.2 252.1 573.8 252.1 573.2 251.7C572.6 251.3 572.6 249.7 573.2 249.3ZM906.2 61.5C906.8 61.1 909.2 61.1 909.8 61.5C910.4 61.9 910.4 63.5 909.8 63.9C909.2 64.3 906.8 64.3 906.2 63.9C905.6 63.5 905.6 61.9 906.2 61.5ZM1096.5 171.6C1097.1 171.2 1099.5 171.2 1100.1 171.6C1100.7 172.0 1100.7 173.6 1100.1 174.0C1099.5 174.4 1097.1 174.4 1096.5 174.0C1095.9 173.6 1095.9 172.0 1096.5 171.6ZM729.5 157.1C730.1 156.7 732.4 156.7 733.0 157.1C733.6 157.5 733.6 159.0 733.0 159.4C732.4 159.8 730.1 159.8 729.5 159.4C728.9 159.0 728.9 157.5 729.5 157.1ZM919.2 266.3C919.8 265.9 922.2 265.9 922.8 266.3C923.4 266.7 923.4 268.3 922.8 268.7C922.2 269.1 919.8 269.1 919.2 268.7C918.6 268.3 918.6 266.7 919.2 266.3ZM522.6 421.4C522.7 421.0 523.7 420.4 524.0 420.4C524.3 420.4 524.7 421.2 524.6 421.6C524.5 422.0 523.7 422.6 523.4 422.6C523.1 422.6 522.5 421.8 522.6 421.4ZM1012.5 412.5C1012.9 413.4 1014.1 416.5 1015.0 418.0C1015.9 419.5 1016.7 420.8 1018.0 421.5C1019.3 422.2 1022.2 421.9 1023.0 422.0M1125.0 236.5C1125.8 235.6 1127.5 232.2 1130.0 231.2C1132.5 230.2 1137.3 229.5 1140.0 230.5C1142.7 231.5 1145.0 234.2 1146.2 237.5C1147.5 240.8 1147.1 247.9 1147.3 250.0M1145.0 300.0C1144.5 303.3 1143.7 313.3 1142.0 320.0C1140.3 326.7 1137.8 334.0 1135.0 340.0C1132.2 346.0 1128.3 351.4 1125.0 356.0C1121.7 360.6 1116.7 365.6 1115.0 367.5M1141.0 300.0C1140.5 303.2 1139.6 312.7 1138.0 319.0C1136.4 325.3 1134.3 332.2 1131.5 338.0C1128.7 343.8 1124.2 349.7 1121.0 354.0C1117.8 358.3 1113.5 362.3 1112.0 364.0M1146.0 195.0C1148.8 194.3 1158.5 190.4 1163.0 190.7C1167.5 191.0 1170.0 193.0 1173.0 196.7C1176.0 200.4 1179.7 210.3 1181.0 213.0M1201.9 291.3C1201.1 293.1 1198.5 298.9 1197.3 302.3C1196.1 305.7 1194.2 309.1 1194.5 311.5C1194.8 313.9 1197.5 315.8 1199.0 317.0C1200.5 318.2 1202.6 316.8 1203.7 318.9C1204.8 321.0 1205.2 328.1 1205.5 329.9M1201.9 292.0C1202.7 294.0 1205.3 300.1 1206.5 304.0C1207.7 307.9 1208.6 311.8 1209.2 315.2C1209.8 318.6 1209.9 322.9 1210.0 324.4M1207.5 313.0L1209.0 325.0M1209.2 333.6C1209.7 335.8 1211.2 342.5 1212.0 346.5C1212.8 350.5 1213.5 355.7 1213.8 357.5M1207.5 334.0L1210.0 346.5M1213.8 357.5C1212.3 357.5 1206.6 356.3 1204.6 357.5C1202.6 358.7 1202.2 362.4 1201.9 364.9C1201.6 367.3 1201.7 371.0 1202.8 372.2C1203.9 373.4 1206.6 373.1 1208.3 372.2C1210.0 371.3 1212.0 369.1 1212.9 366.7C1213.8 364.2 1213.7 359.0 1213.8 357.5M1212.0 377.7C1211.1 379.6 1209.1 385.1 1206.5 388.8C1203.9 392.5 1201.5 395.2 1196.3 399.8C1191.1 404.4 1181.7 410.9 1175.2 416.4C1168.7 421.8 1160.5 429.8 1157.5 432.5M797.3 433.0C797.2 432.0 796.5 428.8 797.0 427.0C797.5 425.2 798.7 423.8 800.0 422.5C801.3 421.2 804.2 419.6 805.0 419.0M921.9 348.0C923.7 347.3 929.5 344.2 932.5 343.8C935.5 343.2 938.0 344.0 940.0 345.0C942.0 346.0 942.4 346.9 944.5 349.8C946.6 352.7 950.2 358.1 952.5 362.5C954.8 366.9 956.0 369.6 958.5 375.9C961.0 382.2 965.3 392.9 967.2 400.3C969.1 407.7 969.4 416.7 969.8 420.0M972.0 450.0C971.8 451.0 971.8 454.3 971.0 456.0C970.2 457.7 969.8 458.3 967.5 460.0C965.2 461.7 959.2 465.2 957.5 466.2M825.0 552.5C824.0 553.2 820.7 556.2 819.0 557.0C817.3 557.8 816.1 558.2 815.0 557.5C813.9 556.8 812.9 553.8 812.5 553.0M934.0 347.5C935.1 348.2 938.2 349.2 940.5 352.0C942.8 354.8 945.8 359.8 948.0 364.0C950.2 368.2 951.6 370.8 954.0 377.0C956.4 383.2 960.6 393.8 962.5 401.0C964.4 408.2 965.0 416.8 965.5 420.0M967.5 448.0C967.2 449.0 967.9 451.8 966.0 454.0C964.1 456.2 957.7 460.2 956.0 461.5M826.0 547.0C825.0 547.8 821.6 551.3 820.0 552.0C818.4 552.7 817.1 551.2 816.5 551.0M775.0 408.0C775.7 409.0 777.7 411.0 779.0 414.0C780.3 417.0 781.8 422.0 783.0 426.0C784.2 430.0 785.5 436.0 786.0 438.0M777.0 407.5C777.7 408.4 779.6 410.1 781.0 413.0C782.4 415.9 784.2 420.9 785.5 425.0C786.8 429.1 788.0 435.4 788.5 437.5M752.0 452.0C753.1 451.5 756.4 449.0 758.8 448.8C761.1 448.5 763.8 449.6 766.0 450.5C768.2 451.4 770.5 452.6 772.0 454.0C773.5 455.4 774.5 458.2 775.0 459.0M782.5 570.0C782.3 571.0 782.3 574.3 781.5 576.0C780.7 577.7 779.4 578.8 777.5 580.0C775.6 581.2 771.2 582.5 770.0 583.0M778.5 567.0C778.2 568.0 778.8 571.2 777.0 573.0C775.2 574.8 769.5 577.2 768.0 578.0M1004.0 482.5C1004.5 482.8 1006.4 483.1 1007.0 484.0C1007.6 484.9 1008.2 486.2 1007.5 488.0C1006.8 489.8 1003.8 493.8 1003.0 495.0M972.0 500.0L974.0 506.0L979.0 510.0M996.5 463.5C997.1 462.7 998.5 462.2 999.0 463.0C999.5 463.8 999.8 466.8 999.5 468.0C999.2 469.2 997.7 470.5 997.0 470.5C996.3 470.5 995.6 469.2 995.5 468.0C995.4 466.8 995.9 464.3 996.5 463.5ZM1017.8 480.0C1017.0 485.8 1014.4 503.3 1013.0 515.0C1011.6 526.7 1011.6 538.3 1009.4 550.0C1007.2 561.7 1003.2 575.0 1000.0 585.0C996.8 595.0 991.7 605.8 990.0 610.0M1022.0 470.0C1022.3 472.5 1024.7 476.7 1024.0 485.0C1023.3 493.3 1020.0 509.2 1018.0 520.0C1016.0 530.8 1013.0 545.0 1012.0 550.0M610.0 660.0L613.8 662.5L618.0 657.0M613.8 662.5L616.2 655.0M563.0 657.0L567.4 660.6M541.0 774.0L547.0 777.5L543.0 782.0M569.4 767.4L577.6 763.3L579.6 767.4L571.5 772.5ZM614.0 776.5C613.0 777.1 609.3 778.6 608.0 780.0C606.7 781.4 606.1 783.2 606.0 784.6C605.9 786.0 606.7 787.9 607.5 788.5C608.3 789.1 610.4 788.5 611.0 788.5M931.5 650.5L964.6 627.9M589.0 832.0L590.0 840.0L588.8 845.0M932.0 648.0L936.0 656.0M755.0 637.0L758.0 642.0L764.0 645.0M781.0 600.5C781.5 599.7 782.9 599.2 783.5 600.0C784.1 600.8 784.8 603.8 784.5 605.0C784.2 606.2 782.7 607.5 782.0 607.5C781.3 607.5 780.5 606.2 780.3 605.0C780.1 603.8 780.5 601.3 781.0 600.5ZM1132.5 475.0C1135.4 474.6 1144.6 472.1 1150.0 472.5C1155.4 472.9 1161.2 474.6 1165.0 477.5C1168.8 480.4 1171.2 485.0 1172.5 490.0C1173.8 495.0 1173.3 502.7 1172.5 507.5C1171.7 512.3 1169.4 516.7 1167.5 518.8C1165.6 520.8 1162.3 519.8 1161.2 520.0M1157.0 474.5C1158.5 477.1 1164.2 484.5 1166.0 490.0C1167.8 495.5 1167.7 503.8 1167.5 507.5C1167.3 511.2 1165.4 511.7 1165.0 512.5M1010.0 555.0L1022.5 590.0L1015.0 612.5M255.0 426.0C256.7 427.9 261.7 433.1 265.0 437.5C268.3 441.9 272.7 447.9 275.0 452.5C277.3 457.1 277.9 462.2 278.8 465.0C279.6 467.8 279.8 468.3 280.0 469.0M256.5 427.0C258.2 428.8 263.6 433.8 267.0 438.0C270.4 442.2 274.8 448.2 277.0 452.5C279.2 456.8 279.9 462.1 280.5 464.0M240.5 435.0C239.8 436.7 236.8 441.5 236.0 445.0C235.2 448.5 235.0 452.8 235.5 456.0C236.0 459.2 236.3 460.8 238.8 464.0C241.2 467.2 246.0 472.1 250.0 475.0C254.0 477.9 260.4 480.2 262.5 481.2M262.5 481.2C262.8 480.2 263.5 476.8 264.5 475.0C265.5 473.2 266.9 471.7 268.5 470.5C270.1 469.3 272.2 468.6 274.0 468.0C275.8 467.4 278.6 467.2 279.5 467.0M217.0 536.0C217.9 534.8 221.0 529.6 222.5 528.8C224.0 527.9 225.4 530.6 226.0 531.0M505.0 697.0C508.3 697.9 521.2 701.3 525.0 702.5C528.8 703.7 527.5 703.8 528.0 704.0M490.0 713.8C492.5 713.8 500.0 714.8 505.0 713.8C510.0 712.7 517.5 708.5 520.0 707.5M492.0 716.0C494.3 716.0 501.2 717.1 506.0 716.0C510.8 714.9 518.5 710.6 521.0 709.5M72.5 657.5L80.5 673.5M83.5 680.0L90.5 693.0M46.4 710.6C46.7 712.2 47.2 716.9 48.0 720.0C48.8 723.1 49.9 725.3 51.4 729.5C52.9 733.7 54.7 739.9 57.0 745.0C59.3 750.1 63.8 757.5 65.2 760.0M45.0 740.8C45.8 742.7 48.3 748.8 50.0 752.0C51.7 755.2 54.2 758.7 55.0 760.0M559.0 880.3L572.0 873.0M565.0 868.0L571.0 874.0M366.9 833.4C370.5 834.2 384.8 836.6 388.8 838.0C392.7 839.4 390.2 841.3 390.5 842.0M236.0 874.0L243.4 874.0L247.0 869.0M254.4 950.6C254.4 946.2 264.8 933.7 270.0 928.8C275.2 923.8 275.7 922.0 285.6 921.0C295.5 920.0 316.9 922.8 329.4 922.5C341.9 922.2 352.5 920.7 360.6 919.4C368.7 918.1 375.2 913.7 377.8 914.7C380.4 915.7 378.1 920.1 376.2 925.6C374.4 931.1 370.0 942.3 366.9 947.5C363.8 952.7 363.8 954.5 357.5 956.9C351.2 959.2 339.3 961.1 329.4 961.6C319.5 962.1 307.9 961.0 298.0 960.0C288.1 959.0 277.3 956.9 270.0 955.3C262.7 953.7 254.4 955.0 254.4 950.6ZM257.5 950.0C259.9 946.8 267.2 935.3 272.0 931.0C276.8 926.7 276.4 924.9 286.0 924.0C295.6 923.1 317.0 925.8 329.4 925.5C341.8 925.2 353.1 923.6 360.6 922.4C368.1 921.2 372.2 919.1 374.5 918.5M266.9 949.0C268.0 945.6 277.8 935.3 282.5 931.9C287.2 928.5 284.6 929.0 295.0 928.8C305.4 928.5 332.2 930.6 345.0 930.3C357.8 930.0 368.0 925.4 371.6 927.2C375.2 929.0 369.3 937.1 366.9 941.2C364.5 945.4 363.2 949.2 357.0 952.0C350.8 954.8 339.2 957.5 329.4 958.0C319.6 958.5 306.9 956.0 298.0 955.0C289.1 954.0 281.2 953.0 276.0 952.0C270.8 951.0 265.8 952.4 266.9 949.0ZM325.0 931.0C325.5 932.5 328.2 935.7 328.0 940.0C327.8 944.3 324.7 954.2 324.0 957.0M338.0 931.0C337.7 933.3 337.2 940.7 336.0 945.0C334.8 949.3 331.8 955.0 331.0 957.0M377.8 915.5C380.7 914.5 390.1 911.0 395.0 909.5C399.9 908.0 405.4 907.0 407.5 906.5M404.0 940.0C404.7 941.7 408.0 947.5 408.0 950.0C408.0 952.5 404.7 954.2 404.0 955.0M90.5 700.0C90.8 701.0 90.4 703.1 92.0 706.0C93.6 708.9 97.7 714.5 100.0 717.5C102.3 720.5 105.0 722.9 106.0 724.0M104.0 751.0L99.0 758.0M206.8 850.6C209.8 851.1 219.3 854.5 225.0 853.6C230.7 852.8 234.8 848.8 241.0 845.5C247.2 842.2 256.2 837.8 262.0 834.0C267.8 830.2 273.7 824.4 276.0 822.5M48.0 800.0C48.7 803.3 50.0 814.2 52.0 820.0C54.0 825.8 58.0 831.3 60.0 835.0C62.0 838.7 63.3 840.8 64.0 842.0M62.0 798.0C62.3 800.8 62.8 809.3 64.0 815.0C65.2 820.7 68.2 829.2 69.0 832.0M240.0 940.0C241.2 938.0 244.5 932.2 247.0 928.0C249.5 923.8 253.7 917.2 255.0 915.0M289.0 241.9L327.0 241.9M334.7 241.9L360.5 241.9M327.8 241.5L332.9 242.5M327.8 244.0L332.9 245.0M327.8 246.5L332.9 247.5M330.3 252.8L330.3 266.9M330.3 270.0L330.3 283.3M341.0 277.2L349.5 273.0M353.5 270.8L369.0 262.2M379.0 255.2L386.5 251.2M392.5 247.5L408.1 238.4M408.1 238.4L408.1 278.6M396.0 251.0L403.5 253.5M389.4 198.0L405.0 239.0M387.8 209.0L398.7 246.5M434.0 195.8L436.2 209.0L427.0 262.0M436.2 209.0L452.0 206.0M436.2 209.0L448.0 199.5M392.0 190.0L408.0 198.5M408.0 200.5C408.3 201.6 408.2 205.1 410.0 207.0C411.8 208.9 416.2 211.4 419.0 212.0C421.8 212.6 425.2 211.4 427.0 210.5C428.8 209.6 429.5 207.3 430.0 206.7M416.0 194.2L409.0 199.5M434.0 195.8L429.5 206.0M446.4 245.8L460.2 251.6M466.7 254.3L480.5 260.1M487.0 262.8L500.8 268.6M507.3 271.3L521.1 277.2M527.5 279.9L541.4 285.7M547.8 288.4L561.7 294.2M568.1 296.9L581.9 302.7M588.4 305.4L602.2 311.2M608.7 313.9L622.5 319.7M629.0 322.4L642.8 328.2M649.3 331.0L663.1 336.8M669.5 339.5L683.4 345.3M689.8 348.0L703.7 353.8M710.1 356.5L712.5 357.5M1016.0 770.4L1038.7 770.4M1050.0 770.4L1083.7 770.4M1042.1 770.8L1047.4 771.8M1042.1 773.3L1047.4 774.3M1042.1 775.8L1047.4 776.8M1044.6 782.5L1044.6 786.3M1044.6 793.8L1044.6 812.5M1044.6 812.5L1060.0 803.8M1070.0 798.1L1077.5 793.8M1083.1 791.2L1098.8 781.2M1098.8 781.2L1098.8 800.0M1098.8 801.5L1098.8 830.6M1094.0 790.0C1093.5 790.7 1091.4 792.7 1091.0 794.0C1090.6 795.3 1091.0 796.8 1091.5 798.0C1092.0 799.2 1093.6 800.5 1094.0 801.0M1106.2 749.4L1111.2 752.5L1113.8 760.0L1117.5 763.8L1141.2 781.2M1113.1 751.2L1121.9 746.9M1113.8 757.5L1123.1 753.1M1106.2 807.5L1138.8 785.6M1111.2 811.9L1136.2 795.0M1096.9 746.9L1090.6 733.3M1087.7 726.9L1081.4 713.3M1078.5 706.9L1072.2 693.3M1069.3 687.0L1063.0 673.3M1060.1 667.0L1053.8 653.4M1050.8 647.0L1044.6 633.4M1041.6 627.0L1035.3 613.4M1032.4 607.0L1026.1 593.4M1023.2 587.1L1016.9 573.4M1014.0 567.1L1007.7 553.5M1004.8 547.1L1004.5 546.5M515.0 275.0L542.5 283.8L555.0 277.5M511.0 271.5L519.0 275.5M576.0 304.9L584.0 300.1M578.0 301.0L582.0 304.0M591.0 309.9L599.0 305.1M593.0 306.0L597.0 309.0M625.0 324.9L633.0 320.1M627.0 321.0L631.0 324.0M639.0 330.4L647.0 325.6M641.0 326.5L645.0 329.5M662.0 342.4L670.0 337.6M664.0 338.5L668.0 341.5"/>
<path fill="none" stroke="#000" stroke-width="1.5" stroke-linecap="round" stroke-linejoin="round" d="M324.5 234.5C325.4 234.8 328.0 236.6 330.0 236.6C332.0 236.6 335.2 234.8 336.3 234.5M405.5 259.2C405.5 258.8 407.1 258.0 408.0 258.0C408.9 258.0 411.0 258.8 411.0 259.2C411.0 259.6 408.9 260.3 408.0 260.3C407.1 260.3 405.5 259.6 405.5 259.2ZM414.4 256.7L426.9 263.0L430.0 263.8L434.7 262.2L439.4 251.2L442.5 235.6L449.5 216.9L452.7 206.7L450.3 202.0L434.0 195.8M416.0 194.2L397.5 185.3L393.5 186.5L391.7 190.3L387.8 201.2L383.9 213.0L380.0 223.0L376.0 232.5L376.0 234.0L381.5 237.2L380.0 240.3L383.0 243.4L381.5 246.6L386.2 247.3M418.5 197.0C418.2 195.1 418.8 191.8 419.5 190.0C420.2 188.2 421.8 186.7 423.0 186.0C424.2 185.3 425.6 185.3 426.5 186.0C427.4 186.7 428.2 188.1 428.5 190.0C428.8 191.9 428.6 195.5 428.0 197.5C427.4 199.5 426.2 201.3 425.0 202.0C423.8 202.7 422.1 202.3 421.0 201.5C419.9 200.7 418.8 198.9 418.5 197.0ZM422.5 197.5C422.2 196.2 422.6 192.4 423.0 191.0C423.4 189.6 424.6 188.7 425.0 189.0C425.4 189.3 425.6 191.4 425.5 193.0C425.4 194.6 425.0 197.8 424.5 198.5C424.0 199.2 422.8 198.8 422.5 197.5ZM366.7 216.9L373.8 213.0L384.0 211.4L383.0 215.3L373.8 216.9L368.3 222.3ZM1038.5 763.8C1039.5 764.2 1042.5 766.0 1044.6 766.0C1046.6 766.0 1049.8 764.2 1050.8 763.8M1095.6 779.4L1104.4 743.0L1106.2 740.0L1110.0 738.1L1113.1 738.8M1113.1 738.8L1116.2 743.1L1121.9 746.2L1123.8 751.2L1146.2 770.0L1146.5 772.5L1141.2 782.5L1140.0 790.0L1138.8 800.0L1130.0 820.0L1125.0 821.2L1123.8 823.8L1120.6 825.6L1106.2 810.0L1103.1 806.2M1121.5 806.0C1121.8 805.0 1124.8 802.7 1126.0 802.5C1127.2 802.3 1128.8 804.0 1128.5 805.0C1128.2 806.0 1125.2 808.3 1124.0 808.5C1122.8 808.7 1121.2 807.0 1121.5 806.0ZM1127.0 801.0C1127.2 800.1 1130.0 798.1 1131.0 798.0C1132.0 797.9 1133.2 799.6 1133.0 800.5C1132.8 801.4 1130.5 803.4 1129.5 803.5C1128.5 803.6 1126.8 801.9 1127.0 801.0ZM1114.5 741.0C1114.0 739.1 1115.6 734.9 1116.5 733.0C1117.4 731.1 1118.8 729.9 1120.0 729.5C1121.2 729.1 1122.8 729.6 1123.5 730.5C1124.2 731.4 1124.7 733.1 1124.5 735.0C1124.3 736.9 1123.3 740.4 1122.5 742.0C1121.7 743.6 1120.8 744.7 1119.5 744.5C1118.2 744.3 1115.0 742.9 1114.5 741.0ZM1118.0 739.0C1117.9 737.8 1118.9 734.6 1119.5 733.5C1120.1 732.4 1121.2 732.0 1121.5 732.5C1121.8 733.0 1121.8 735.1 1121.5 736.5C1121.2 737.9 1120.6 740.6 1120.0 741.0C1119.4 741.4 1118.1 740.2 1118.0 739.0Z"/>
<path fill="none" stroke="#000" stroke-width="5.4" stroke-linecap="butt" stroke-linejoin="round" d="M702.5 427.5L621.2 480.0L561.0 516.5L557.0 522.5L557.0 551.0L560.0 554.0L660.0 608.5L670.5 595.5L715.0 621.0L719.0 640.5L725.0 645.0L817.5 700.0L822.0 706.0M822.5 705.0C822.5 702.1 821.7 692.1 822.5 687.5C823.3 682.9 825.4 679.8 827.5 677.5C829.6 675.2 822.9 680.8 835.0 673.8C847.1 666.7 878.3 649.4 900.0 635.0C921.7 620.6 954.2 595.4 965.0 587.5M820.0 711.0L782.5 731.0"/>
<path fill="none" stroke="#fff" stroke-width="2.6" stroke-linecap="butt" stroke-linejoin="round" d="M702.5 427.5L621.2 480.0L561.0 516.5L557.0 522.5L557.0 551.0L560.0 554.0L660.0 608.5L670.5 595.5L715.0 621.0L719.0 640.5L725.0 645.0L817.5 700.0L822.0 706.0M822.5 705.0C822.5 702.1 821.7 692.1 822.5 687.5C823.3 682.9 825.4 679.8 827.5 677.5C829.6 675.2 822.9 680.8 835.0 673.8C847.1 666.7 878.3 649.4 900.0 635.0C921.7 620.6 954.2 595.4 965.0 587.5M820.0 711.0L782.5 731.0"/>
<path fill="none" stroke="#000" stroke-width="3.7" stroke-linecap="round" stroke-linejoin="round" d="M702.5 427.5C703.1 422.1 703.9 406.7 706.0 395.0C708.1 383.3 711.4 371.2 715.0 357.5C718.6 343.8 723.3 325.8 727.5 312.5C731.7 299.2 736.0 286.7 740.0 277.5C744.0 268.3 746.2 263.1 751.2 257.5C756.2 251.9 762.7 247.9 770.0 243.8C777.3 239.6 788.3 235.0 795.0 232.5C801.7 230.0 806.0 228.8 810.0 228.8C814.0 228.8 815.8 229.8 818.8 232.5C821.7 235.2 824.0 241.7 827.5 245.0C831.0 248.3 835.8 251.5 840.0 252.5C844.2 253.5 848.8 252.7 852.5 251.2C856.2 249.8 859.8 247.3 862.5 243.8C865.2 240.2 867.7 232.3 868.8 230.0M868.8 230.0L876.2 207.5L883.8 186.2M1160.0 402.5C1157.5 402.9 1150.4 403.3 1145.0 405.0C1139.6 406.7 1133.3 409.4 1127.5 412.5C1121.7 415.6 1124.6 410.4 1110.0 423.8C1095.4 437.1 1051.7 481.0 1040.0 492.5M1040.0 492.5C1038.3 496.2 1033.3 507.5 1030.0 515.0C1026.7 522.5 1023.4 531.4 1020.0 537.5C1016.6 543.6 1011.6 548.6 1009.4 551.7C1007.2 554.8 1007.4 555.3 1007.0 556.0M965.0 587.5C965.8 586.0 967.9 580.6 970.0 578.8C972.1 576.9 974.6 576.0 977.5 576.2C980.4 576.5 984.2 580.4 987.5 580.0C990.8 579.6 994.6 576.7 997.5 573.8C1000.4 570.8 1003.4 565.5 1005.0 562.5C1006.6 559.5 1006.7 557.1 1007.0 556.0M781.5 734.7C780.4 734.7 778.5 735.2 774.8 734.7C771.1 734.2 764.8 732.3 759.2 731.4C753.6 730.5 746.6 728.7 741.4 729.2C736.2 729.8 731.7 732.5 728.0 734.7C724.3 736.9 720.5 741.2 719.0 742.5M792.6 627.8C791.5 629.8 788.6 634.6 786.0 640.0C783.4 645.4 780.4 653.7 777.0 660.0C773.6 666.3 768.9 671.7 765.9 678.0C762.9 684.3 761.4 692.4 759.2 698.0C757.0 703.6 756.2 706.9 752.5 711.4C748.8 715.9 741.8 720.6 737.0 724.7C732.2 728.8 727.0 731.8 723.5 735.9C720.0 740.0 717.4 745.3 715.7 749.2C714.0 753.1 713.9 757.5 713.5 759.2M713.5 759.2C712.2 759.6 709.6 760.8 705.7 761.5C701.8 762.2 694.5 762.0 690.0 763.7C685.5 765.4 682.0 767.6 679.0 771.5C676.0 775.4 674.5 782.2 672.3 787.0C670.1 791.8 667.6 797.7 665.6 800.4C663.6 803.1 660.9 802.6 660.0 803.0M792.5 627.5C793.5 628.3 796.9 630.8 798.8 632.5C800.6 634.2 802.7 633.3 803.8 637.5C804.8 641.7 804.8 654.2 805.0 657.5"/>
<path fill="none" stroke="#e4e4e4" stroke-width="0.8" stroke-linecap="round" stroke-linejoin="round" d="M702.5 427.5C703.1 422.1 703.9 406.7 706.0 395.0C708.1 383.3 711.4 371.2 715.0 357.5C718.6 343.8 723.3 325.8 727.5 312.5C731.7 299.2 736.0 286.7 740.0 277.5C744.0 268.3 746.2 263.1 751.2 257.5C756.2 251.9 762.7 247.9 770.0 243.8C777.3 239.6 788.3 235.0 795.0 232.5C801.7 230.0 806.0 228.8 810.0 228.8C814.0 228.8 815.8 229.8 818.8 232.5C821.7 235.2 824.0 241.7 827.5 245.0C831.0 248.3 835.8 251.5 840.0 252.5C844.2 253.5 848.8 252.7 852.5 251.2C856.2 249.8 859.8 247.3 862.5 243.8C865.2 240.2 867.7 232.3 868.8 230.0M868.8 230.0L876.2 207.5L883.8 186.2M1160.0 402.5C1157.5 402.9 1150.4 403.3 1145.0 405.0C1139.6 406.7 1133.3 409.4 1127.5 412.5C1121.7 415.6 1124.6 410.4 1110.0 423.8C1095.4 437.1 1051.7 481.0 1040.0 492.5M1040.0 492.5C1038.3 496.2 1033.3 507.5 1030.0 515.0C1026.7 522.5 1023.4 531.4 1020.0 537.5C1016.6 543.6 1011.6 548.6 1009.4 551.7C1007.2 554.8 1007.4 555.3 1007.0 556.0M965.0 587.5C965.8 586.0 967.9 580.6 970.0 578.8C972.1 576.9 974.6 576.0 977.5 576.2C980.4 576.5 984.2 580.4 987.5 580.0C990.8 579.6 994.6 576.7 997.5 573.8C1000.4 570.8 1003.4 565.5 1005.0 562.5C1006.6 559.5 1006.7 557.1 1007.0 556.0M781.5 734.7C780.4 734.7 778.5 735.2 774.8 734.7C771.1 734.2 764.8 732.3 759.2 731.4C753.6 730.5 746.6 728.7 741.4 729.2C736.2 729.8 731.7 732.5 728.0 734.7C724.3 736.9 720.5 741.2 719.0 742.5M792.6 627.8C791.5 629.8 788.6 634.6 786.0 640.0C783.4 645.4 780.4 653.7 777.0 660.0C773.6 666.3 768.9 671.7 765.9 678.0C762.9 684.3 761.4 692.4 759.2 698.0C757.0 703.6 756.2 706.9 752.5 711.4C748.8 715.9 741.8 720.6 737.0 724.7C732.2 728.8 727.0 731.8 723.5 735.9C720.0 740.0 717.4 745.3 715.7 749.2C714.0 753.1 713.9 757.5 713.5 759.2M713.5 759.2C712.2 759.6 709.6 760.8 705.7 761.5C701.8 762.2 694.5 762.0 690.0 763.7C685.5 765.4 682.0 767.6 679.0 771.5C676.0 775.4 674.5 782.2 672.3 787.0C670.1 791.8 667.6 797.7 665.6 800.4C663.6 803.1 660.9 802.6 660.0 803.0M792.5 627.5C793.5 628.3 796.9 630.8 798.8 632.5C800.6 634.2 802.7 633.3 803.8 637.5C804.8 641.7 804.8 654.2 805.0 657.5"/>
<path fill="none" stroke="#000" stroke-width="3.4" stroke-linecap="round" stroke-linejoin="round" d="M552.0 553.5L530.0 566.0L508.8 578.8L504.0 574.5M504.0 574.5C503.3 574.1 501.9 572.3 500.0 572.0C498.1 571.7 497.1 570.3 492.5 572.5C487.9 574.7 478.3 580.4 472.5 585.0C466.7 589.6 461.6 597.2 457.5 600.0C453.4 602.8 451.3 601.2 448.0 601.5C444.7 601.8 439.5 603.6 437.5 601.5C435.5 599.4 434.6 593.2 436.0 588.8C437.4 584.3 442.4 579.8 446.0 575.0C449.6 570.2 452.9 566.2 457.5 560.0C462.1 553.8 470.2 543.3 473.8 537.5C477.3 531.7 478.0 529.2 479.0 525.0C480.0 520.8 481.1 517.1 480.0 512.5C478.9 507.9 473.5 502.5 472.5 497.5C471.5 492.5 472.5 487.9 473.8 482.5C475.0 477.1 478.8 469.1 480.0 465.0C481.2 460.9 480.8 459.2 481.0 458.0M521.0 514.0L562.5 483.8L595.0 462.5L606.0 452.5"/>
<path fill="none" stroke="#fff" stroke-width="0.8" stroke-linecap="round" stroke-linejoin="round" d="M552.0 553.5L530.0 566.0L508.8 578.8L504.0 574.5M504.0 574.5C503.3 574.1 501.9 572.3 500.0 572.0C498.1 571.7 497.1 570.3 492.5 572.5C487.9 574.7 478.3 580.4 472.5 585.0C466.7 589.6 461.6 597.2 457.5 600.0C453.4 602.8 451.3 601.2 448.0 601.5C444.7 601.8 439.5 603.6 437.5 601.5C435.5 599.4 434.6 593.2 436.0 588.8C437.4 584.3 442.4 579.8 446.0 575.0C449.6 570.2 452.9 566.2 457.5 560.0C462.1 553.8 470.2 543.3 473.8 537.5C477.3 531.7 478.0 529.2 479.0 525.0C480.0 520.8 481.1 517.1 480.0 512.5C478.9 507.9 473.5 502.5 472.5 497.5C471.5 492.5 472.5 487.9 473.8 482.5C475.0 477.1 478.8 469.1 480.0 465.0C481.2 460.9 480.8 459.2 481.0 458.0M521.0 514.0L562.5 483.8L595.0 462.5L606.0 452.5"/>
<path fill="none" stroke="#000" stroke-width="3.2" stroke-linecap="round" stroke-linejoin="round" d="M606.0 452.5C607.2 450.4 610.7 444.2 613.0 440.0C615.3 435.8 617.2 432.5 620.0 427.0C622.8 421.5 625.5 412.5 630.0 407.0C634.5 401.5 642.5 398.8 647.0 394.0C651.5 389.2 654.5 383.3 657.0 378.0C659.5 372.7 660.5 367.3 662.0 362.0C663.5 356.7 665.3 348.7 666.0 346.0M595.0 461.0C593.3 459.5 588.3 455.1 585.0 452.0C581.7 448.9 577.8 445.7 575.0 442.5C572.2 439.3 569.7 435.1 568.0 433.0C566.3 430.9 565.5 430.5 565.0 430.0M701.0 426.0C700.0 424.2 698.1 417.2 695.0 415.0C691.9 412.8 686.7 411.2 682.5 412.5C678.3 413.8 673.8 417.9 670.0 422.5C666.2 427.1 663.3 436.6 660.0 440.0C656.7 443.4 652.3 442.8 650.0 443.0C647.7 443.2 646.7 441.3 646.0 441.0M883.8 186.2C884.8 186.0 886.9 185.2 890.0 185.0C893.1 184.8 899.8 185.5 902.5 185.0C905.2 184.5 905.2 183.0 906.0 182.0C906.8 181.0 907.2 179.3 907.5 178.8M868.8 230.0C869.0 232.1 868.8 239.6 870.0 242.5C871.2 245.4 873.3 246.0 876.2 247.5C879.2 249.0 883.5 248.8 887.5 251.2C891.5 253.8 895.8 260.2 900.0 262.5C904.2 264.8 908.8 262.9 912.5 265.0C916.2 267.1 919.6 271.2 922.5 275.0C925.4 278.8 926.7 283.8 930.0 287.5C933.3 291.2 940.2 293.8 942.5 297.5C944.8 301.2 943.8 305.4 943.8 310.0C943.8 314.6 941.7 319.6 942.5 325.0C943.3 330.4 947.3 339.2 948.8 342.5C950.2 345.8 949.8 341.2 951.2 345.0C952.7 348.8 953.5 359.6 957.5 365.0C961.5 370.4 970.6 372.5 975.0 377.5C979.4 382.5 981.2 389.2 983.8 395.0C986.2 400.8 988.5 405.8 990.0 412.5C991.5 419.2 990.4 428.8 992.5 435.0C994.6 441.2 998.3 445.4 1002.5 450.0C1006.7 454.6 1014.2 457.9 1017.5 462.5C1020.8 467.1 1020.8 473.3 1022.5 477.5C1024.2 481.7 1024.6 485.0 1027.5 487.5C1030.4 490.0 1037.9 491.7 1040.0 492.5M710.0 400.0C710.8 397.5 712.1 388.8 715.0 385.0C717.9 381.2 722.5 379.6 727.5 377.5C732.5 375.4 740.9 373.9 745.0 372.5C749.1 371.1 750.8 369.6 752.0 369.0M747.5 375.0C747.9 377.5 749.8 384.6 750.0 390.0C750.2 395.4 749.4 401.7 748.8 407.5C748.1 413.3 746.6 420.9 746.0 425.0C745.4 429.1 745.2 430.8 745.0 432.0M751.0 371.0C752.0 370.2 755.0 367.5 757.0 366.0C759.0 364.5 762.0 362.7 763.0 362.0M1025.0 161.2C1026.7 161.7 1030.8 163.1 1035.0 163.8C1039.2 164.4 1045.4 163.8 1050.0 165.0C1054.6 166.2 1057.5 167.5 1062.5 171.2C1067.5 175.0 1073.8 181.9 1080.0 187.5C1086.2 193.1 1094.2 200.0 1100.0 205.0C1105.8 210.0 1110.4 212.5 1115.0 217.5C1119.6 222.5 1124.4 229.2 1127.5 235.0C1130.6 240.8 1132.3 246.7 1133.8 252.5C1135.2 258.3 1134.8 263.3 1136.2 270.0C1137.7 276.7 1139.4 285.0 1142.5 292.5C1145.6 300.0 1151.0 307.9 1155.0 315.0C1159.0 322.1 1163.8 329.2 1166.2 335.0C1168.8 340.8 1169.4 345.4 1170.0 350.0C1170.6 354.6 1170.8 357.5 1170.0 362.5C1169.2 367.5 1166.7 374.2 1165.0 380.0C1163.3 385.8 1160.6 392.9 1160.0 397.5C1159.4 402.1 1161.0 405.8 1161.2 407.5M1170.0 350.0C1171.7 351.7 1177.3 356.7 1180.0 360.0C1182.7 363.3 1184.5 366.2 1186.0 370.0C1187.5 373.8 1189.3 378.8 1188.8 382.5C1188.2 386.2 1185.6 389.6 1182.5 392.5C1179.4 395.4 1175.4 398.3 1170.0 400.0C1164.6 401.7 1156.2 402.9 1150.0 402.5C1143.8 402.1 1137.5 399.6 1132.5 397.5C1127.5 395.4 1122.1 391.2 1120.0 390.0M1110.0 425.0C1111.7 419.2 1117.1 397.1 1120.0 390.0C1122.9 382.9 1124.8 384.6 1127.5 382.5C1130.2 380.4 1134.8 378.3 1136.2 377.5M810.0 687.5C811.7 687.9 816.2 690.4 820.0 690.0C823.8 689.6 827.5 688.3 832.5 685.0C837.5 681.7 844.2 674.2 850.0 670.0C855.8 665.8 861.7 662.5 867.5 660.0C873.3 657.5 880.0 658.3 885.0 655.0C890.0 651.7 893.8 644.6 897.5 640.0C901.2 635.4 902.9 633.3 907.5 627.5C912.1 621.7 919.8 612.2 925.0 605.0C930.2 597.8 934.8 589.6 939.0 584.0C943.2 578.4 943.2 581.9 950.3 571.4C957.3 560.9 976.1 529.2 981.3 520.8M867.5 603.8L897.5 637.5M968.8 578.8C971.0 579.6 981.9 581.0 982.5 583.8C983.1 586.5 976.2 590.6 972.5 595.0C968.8 599.4 962.3 605.8 960.0 610.0C957.7 614.2 957.9 617.5 958.8 620.0C959.6 622.5 964.0 624.2 965.0 625.0M991.0 536.3C989.6 540.0 984.8 553.2 982.7 558.8C980.6 564.4 979.2 568.1 978.5 570.0M985.0 556.0C986.2 555.5 990.3 553.0 992.5 553.0C994.7 553.0 997.1 555.5 998.0 556.0M822.5 652.5C822.7 654.6 824.6 660.4 823.8 665.0C822.9 669.6 818.8 675.8 817.5 680.0C816.2 684.2 816.5 688.3 816.2 690.0M1207.8 362.6L1213.2 358.8"/>
<path fill="none" stroke="#000" stroke-width="2.6" stroke-linecap="round" stroke-linejoin="round" d="M598.8 496.2C600.6 497.3 605.2 500.8 610.0 502.5C614.8 504.2 620.8 505.4 627.5 506.3C634.2 507.2 642.1 507.5 650.0 508.2C657.9 508.9 668.5 509.5 674.7 510.6C680.9 511.7 684.0 513.2 687.0 514.8C690.0 516.3 691.8 518.9 692.8 519.7M598.0 498.0C597.5 498.8 596.1 500.7 595.0 502.5C593.9 504.3 591.2 507.1 591.2 508.8C591.2 510.4 592.7 511.4 595.0 512.5C597.3 513.6 601.7 515.0 605.0 515.6C608.3 516.2 611.7 517.0 615.0 516.2C618.3 515.5 621.7 512.2 625.0 511.2C628.3 510.3 630.8 510.1 635.0 510.6C639.2 511.1 644.1 513.3 650.0 514.5C655.9 515.7 665.1 517.0 670.6 518.0C676.1 519.0 680.9 520.1 683.0 520.5M677.0 527.0C675.5 528.9 670.2 534.3 668.0 538.6C665.8 542.9 664.1 548.5 664.0 552.6C663.9 556.7 665.2 561.0 667.3 563.3C669.3 565.6 673.0 567.0 676.3 566.6C679.6 566.2 684.2 563.4 687.0 560.8C689.8 558.2 691.4 554.8 692.8 551.0C694.2 547.2 694.9 540.0 695.3 537.8M684.6 528.0L678.0 571.5M691.0 535.3L678.8 570.7M698.6 522.0C698.9 521.2 699.8 518.3 700.5 517.0C701.2 515.7 701.8 514.2 702.7 514.0C703.6 513.8 705.4 513.9 706.0 515.6C706.6 517.3 706.5 521.1 706.6 524.0C706.7 526.9 706.8 531.5 706.8 533.0"/>
<path fill="none" stroke="#000" stroke-width="2.2" stroke-linecap="round" stroke-linejoin="round" d="M457.5 565.0L465.0 570.0L463.8 555.0M485.0 459.0C485.7 460.8 488.0 466.1 489.0 470.0C490.0 473.9 489.6 477.1 491.0 482.5C492.4 487.9 494.5 497.1 497.5 502.5C500.5 507.9 505.7 512.5 508.8 515.0C511.8 517.5 514.0 517.7 516.0 517.5C518.0 517.3 520.2 514.6 521.0 514.0M515.0 497.5L522.5 496.0L527.5 500.0L518.8 516.0L515.0 497.5M702.5 427.5C702.9 424.6 703.4 417.9 705.0 410.0C706.6 402.1 710.8 385.0 712.0 380.0M818.8 231.2C820.0 229.2 824.0 221.7 826.2 218.8C828.5 215.8 831.0 213.5 832.5 213.8C834.0 214.0 834.6 217.6 835.0 220.0C835.4 222.4 835.0 226.7 835.0 228.0M1027.5 162.5C1029.2 164.4 1034.6 172.9 1037.5 173.8C1040.4 174.6 1042.9 170.2 1045.0 167.5C1047.1 164.8 1048.3 159.6 1050.0 157.5C1051.7 155.4 1054.2 155.4 1055.0 155.0M993.5 509.0C993.9 509.8 995.8 512.3 996.0 514.0C996.2 515.7 994.8 518.2 994.5 519.0M759.2 700.2C759.9 701.3 763.6 703.6 763.6 707.0C763.6 710.4 761.1 716.2 759.2 720.3C757.4 724.4 752.9 728.4 752.5 731.4C752.1 734.4 754.8 736.0 757.0 738.0C759.2 740.0 764.4 742.8 765.9 743.7M722.0 760.0L732.0 757.0L733.0 762.0L724.0 766.0ZM1201.5 308.7L1206.0 306.3M118.0 818.0L126.0 823.5M130.0 826.0L138.0 831.5M143.0 835.0L151.0 840.5M157.0 844.0L165.0 849.0M171.0 852.0L178.0 856.5M185.0 861.0L191.0 864.5M1141.2 782.5L1137.5 800.0"/>
<path fill="#fff" stroke="#000" stroke-width="2" stroke-linejoin="round" d="M471.0 443.0C472.2 442.1 474.2 441.7 476.0 441.5C477.8 441.3 480.6 441.2 482.0 442.0C483.4 442.8 484.0 444.3 484.5 446.0C485.0 447.7 485.1 450.0 485.0 452.0C484.9 454.0 484.7 456.2 484.0 458.0C483.3 459.8 481.8 461.2 481.0 463.0C480.2 464.8 480.2 467.6 479.0 469.0C477.8 470.4 475.7 471.4 474.0 471.5C472.3 471.6 470.1 470.9 469.0 469.5C467.9 468.1 467.7 465.4 467.5 463.0C467.3 460.6 467.8 457.7 468.0 455.0C468.2 452.3 468.5 449.0 469.0 447.0C469.5 445.0 469.8 443.9 471.0 443.0ZM677.2 524.2C677.2 523.4 677.9 522.3 679.0 521.8C680.1 521.3 682.1 521.0 683.7 521.0C685.3 521.0 687.4 521.3 688.5 521.8C689.6 522.3 690.2 523.4 690.2 524.2C690.2 525.0 689.6 526.1 688.5 526.6C687.4 527.1 685.3 527.4 683.7 527.4C682.1 527.4 680.1 527.1 679.0 526.6C677.9 526.1 677.2 525.0 677.2 524.2ZM688.4 532.0C688.4 531.2 689.0 530.1 690.0 529.6C691.0 529.1 692.9 529.0 694.4 529.0C695.9 529.0 698.0 529.1 699.0 529.6C700.0 530.1 700.4 531.2 700.4 532.0C700.4 532.8 700.0 533.9 699.0 534.4C698.0 534.9 695.9 535.2 694.4 535.2C692.9 535.2 691.0 534.9 690.0 534.4C689.0 533.9 688.4 532.8 688.4 532.0Z"/>
<path fill="#000" stroke="#000" stroke-width="1" stroke-linejoin="round" d="M598.2 567.4L595.0 568.9L591.8 567.4L591.8 564.6L595.0 563.1L598.2 564.6ZM661.7 605.4L658.5 606.9L655.3 605.4L655.3 602.6L658.5 601.1L661.7 602.6ZM729.2 643.9L726.0 645.4L722.8 643.9L722.8 641.1L726.0 639.6L729.2 641.1ZM579.2 504.9L576.0 506.4L572.8 504.9L572.8 502.1L576.0 500.6L579.2 502.1ZM635.7 468.9L632.5 470.4L629.3 468.9L629.3 466.1L632.5 464.6L635.7 466.1ZM693.2 431.4L690.0 432.9L686.8 431.4L686.8 428.6L690.0 427.1L693.2 428.6ZM553.2 554.9L550.0 556.4L546.8 554.9L546.8 552.1L550.0 550.6L553.2 552.1ZM511.7 578.8L510.2 580.8L507.3 580.8L505.8 578.8L507.3 576.7L510.2 576.7ZM453.0 599.0L451.5 601.0L448.5 601.0L447.0 599.0L448.5 597.0L451.5 597.0ZM465.5 547.5L464.0 549.5L461.0 549.5L459.5 547.5L461.0 545.5L464.0 545.5ZM478.0 537.5L476.5 539.5L473.5 539.5L472.0 537.5L473.5 535.5L476.5 535.5ZM476.0 445.0C477.2 443.6 480.6 443.2 482.0 443.5C483.4 443.8 484.0 445.1 484.5 447.0C485.0 448.9 485.4 452.5 485.0 455.0C484.6 457.5 483.2 460.5 482.0 462.0C480.8 463.5 479.1 464.3 478.0 464.0C476.9 463.7 476.0 462.0 475.5 460.0C475.0 458.0 474.9 454.5 475.0 452.0C475.1 449.5 474.8 446.4 476.0 445.0ZM565.5 483.8L564.0 485.8L561.0 485.8L559.5 483.8L561.0 481.7L564.0 481.7ZM609.0 452.5L607.5 454.5L604.5 454.5L603.0 452.5L604.5 450.5L607.5 450.5ZM640.0 405.0L638.5 407.0L635.5 407.0L634.0 405.0L635.5 403.0L638.5 403.0ZM533.0 508.0L531.5 510.0L528.5 510.0L527.0 508.0L528.5 506.0L531.5 506.0ZM511.5 515.0L510.0 517.0L507.0 517.0L505.5 515.0L507.0 513.0L510.0 513.0ZM568.0 429.5L566.2 431.8L562.8 431.8L561.0 429.5L562.8 427.2L566.2 427.2ZM648.5 441.0L647.3 442.7L644.7 442.7L643.5 441.0L644.7 439.3L647.3 439.3ZM690.0 520.0C691.0 518.7 696.5 519.7 698.0 521.0C699.5 522.3 700.0 526.7 699.0 528.0C698.0 529.3 693.5 530.3 692.0 529.0C690.5 527.7 689.0 521.3 690.0 520.0ZM699.0 536.0C699.9 534.7 702.3 534.2 704.0 534.0C705.7 533.8 708.4 533.5 709.3 535.0C710.2 536.5 710.0 541.1 709.5 543.0C709.0 544.9 707.4 545.9 706.0 546.5C704.6 547.1 702.2 547.2 701.0 546.5C699.8 545.8 698.9 543.8 698.6 542.0C698.3 540.2 698.1 537.3 699.0 536.0ZM912.4 176.5L910.5 179.2L906.5 179.2L904.6 176.5L906.5 173.8L910.5 173.8ZM836.8 229.0L835.9 230.2L834.1 230.2L833.2 229.0L834.1 227.8L835.9 227.8ZM865.5 223.8L864.0 225.8L861.0 225.8L859.5 223.8L861.0 221.7L864.0 221.7ZM873.0 231.2L871.5 233.3L868.5 233.3L867.0 231.2L868.5 229.2L871.5 229.2ZM856.7 252.5L855.2 254.5L852.3 254.5L850.8 252.5L852.3 250.5L855.2 250.5ZM879.0 247.5L877.6 249.4L874.9 249.4L873.5 247.5L874.9 245.6L877.6 245.6ZM932.8 290.0L931.4 291.9L928.6 291.9L927.2 290.0L928.6 288.1L931.4 288.1ZM952.8 342.5L951.4 344.4L948.6 344.4L947.2 342.5L948.6 340.6L951.4 340.6ZM986.8 397.0L985.4 398.9L982.6 398.9L981.2 397.0L982.6 395.1L985.4 395.1ZM1022.8 470.0L1021.4 471.9L1018.6 471.9L1017.2 470.0L1018.6 468.1L1021.4 468.1ZM755.2 369.0L753.6 371.2L750.4 371.2L748.8 369.0L750.4 366.8L753.6 366.8ZM1022.0 162.5L1020.5 164.5L1017.5 164.5L1016.0 162.5L1017.5 160.5L1020.5 160.5ZM1026.3 161.0L1025.2 162.6L1022.9 162.6L1021.7 161.0L1022.9 159.4L1025.2 159.4ZM1139.8 377.0L1138.4 378.9L1135.6 378.9L1134.2 377.0L1135.6 375.1L1138.4 375.1ZM1153.0 380.0C1153.6 378.1 1155.2 377.0 1156.0 377.5C1156.8 378.0 1157.4 380.8 1157.5 383.0C1157.6 385.2 1157.1 389.2 1156.5 391.0C1155.9 392.8 1154.7 393.8 1154.0 393.5C1153.3 393.2 1152.7 391.2 1152.5 389.0C1152.3 386.8 1152.4 381.9 1153.0 380.0ZM1176.5 367.5L1175.1 369.4L1172.4 369.4L1171.0 367.5L1172.4 365.6L1175.1 365.6ZM985.6 520.0L983.6 522.8L979.4 522.8L977.4 520.0L979.4 517.2L983.6 517.2ZM870.7 603.5L869.1 605.7L865.9 605.7L864.3 603.5L865.9 601.3L869.1 601.3ZM967.8 625.0L966.4 626.9L963.6 626.9L962.2 625.0L963.6 623.1L966.4 623.1ZM972.1 589.7L970.3 592.0L966.9 592.0L965.1 589.7L966.9 587.4L970.3 587.4ZM944.9 581.3L943.4 583.3L940.4 583.3L938.9 581.3L940.4 579.3L943.4 579.3ZM910.0 627.0L908.5 629.0L905.5 629.0L904.0 627.0L905.5 625.0L908.5 625.0ZM869.5 660.0L868.3 661.7L865.7 661.7L864.5 660.0L865.7 658.3L868.3 658.3ZM857.5 667.0L856.3 668.7L853.7 668.7L852.5 667.0L853.7 665.3L856.3 665.3ZM812.8 687.5L811.4 689.4L808.6 689.4L807.2 687.5L808.6 685.6L811.4 685.6ZM997.2 510.0L994.2 512.0L990.5 511.0L989.8 508.0L992.8 506.0L996.5 507.0ZM1001.8 505.5L998.2 505.5L996.3 503.0L998.2 500.5L1001.8 500.5L1003.7 503.0ZM994.0 526.4L1005.0 544.5L999.5 546.5ZM826.0 709.0L824.5 711.0L821.5 711.0L820.0 709.0L821.5 707.0L824.5 707.0ZM768.5 744.0L767.3 745.7L764.7 745.7L763.5 744.0L764.7 742.3L767.3 742.3ZM743.5 728.0L742.3 729.7L739.7 729.7L738.5 728.0L739.7 726.3L742.3 726.3ZM754.5 712.0L753.3 713.7L750.7 713.7L749.5 712.0L750.7 710.3L753.3 710.3ZM759.5 701.0L758.3 702.7L755.7 702.7L754.5 701.0L755.7 699.3L758.3 699.3ZM729.5 733.0L728.3 734.7L725.7 734.7L724.5 733.0L725.7 731.3L728.3 731.3ZM785.5 735.0L784.3 736.7L781.7 736.7L780.5 735.0L781.7 733.3L784.3 733.3ZM797.5 680.0L796.3 681.7L793.7 681.7L792.5 680.0L793.7 678.3L796.3 678.3ZM812.5 687.0L811.3 688.7L808.7 688.7L807.5 687.0L808.7 685.3L811.3 685.3ZM825.8 655.0L824.4 656.9L821.6 656.9L820.2 655.0L821.6 653.1L824.4 653.1ZM309.7 239.2L317.5 239.8L326.5 241.9L317.5 244.0L309.7 244.6ZM349.5 239.2L341.5 239.8L334.7 241.9L341.5 244.0L349.5 244.6ZM328.3 233.0C328.3 232.7 329.6 232.2 330.2 232.2C330.8 232.2 332.0 232.7 332.0 233.0C332.0 233.3 330.8 234.0 330.2 234.0C329.6 234.0 328.3 233.3 328.3 233.0ZM400.5 250.8L404.5 254.0L400.0 254.2ZM376.0 212.8L384.0 211.4L383.0 215.3L376.0 216.3ZM735.0 367.5L716.0 356.0L713.0 362.5ZM1025.0 767.8L1031.0 768.4L1038.7 770.4L1031.0 772.4L1025.0 773.0ZM1065.0 767.8L1058.0 768.4L1050.0 770.4L1058.0 772.4L1065.0 773.0ZM1042.5 762.3C1042.5 762.0 1043.9 761.5 1044.6 761.5C1045.3 761.5 1046.6 762.0 1046.6 762.3C1046.6 762.6 1045.3 763.4 1044.6 763.4C1043.9 763.4 1042.5 762.6 1042.5 762.3ZM1095.5 809.5C1095.5 809.0 1097.6 808.0 1098.7 808.0C1099.8 808.0 1102.0 809.0 1102.0 809.5C1102.0 810.0 1099.8 811.0 1098.7 811.0C1097.6 811.0 1095.5 810.0 1095.5 809.5Z"/>
<path fill="none" stroke="#fff" stroke-width="1.3" stroke-linecap="round" d="M477.5 450.5L481.0 445.5M477.0 457.0L479.5 457.0M702.0 541.0L705.5 539.0"/>
<path fill="none" stroke="#000" stroke-width="1.6" d="M329.5 45.0L329.5 227.5M437.2 45.0L437.2 188.0M928.6 614.0L928.6 999.5M1020.7 1000.5L1020.7 811.9L1038.7 781.5M1125.9 832.0L1125.9 999.5"/>
<defs>
<pattern id="hc" width="7.000" height="12.124" patternUnits="userSpaceOnUse" patternTransform="rotate(27 100 725)">
<path d="M3.500 0L7.000 2.021L7.000 6.062L3.500 8.083L0 6.062L0 2.021ZM3.500 8.083L3.500 12.124" fill="none" stroke="#000" stroke-width="1.5"/>
</pattern>
<pattern id="dm" width="10.5" height="5.2" patternUnits="userSpaceOnUse" patternTransform="rotate(28 74 822)">
<path d="M0 2.6L1.75 0L5.25 0L7 2.6L5.25 5.2L1.75 5.2ZM7 2.6L10.5 2.6" fill="none" stroke="#000" stroke-width="1.25"/>
</pattern>
</defs>
<path d="M101 725L127 742L152 758L192.6 784.5L233 805L271 822L254 833L233 825.5L192.6 806L152 787L127.6 770.5L104 753Z" fill="url(#hc)" stroke="none"/>
<path d="M107 778L131.6 794L172 820L213 840L234 845L243 843L226 853.6L206.8 852L172 834L131.6 810L109 790Z" fill="url(#hc)" stroke="none"/>
<path d="M73.7 821L95 842L120 857.5L145 872.5L170 886L195 900L210 907.5L232.5 910L255 916L237.5 942.5L220 937.5L195 927.5L170 915L145 900L120 885L95 862.5L77.5 837.5Z" fill="url(#dm)" stroke="none"/>
<!-- license plate -->
<path d="M95 815.5L99 818L206.8 877.5L209.5 879.5L210 907.5L95 842.5Z" fill="#fff" stroke="none"/>
<path d="M95 844.5L95 815.5L99 818" fill="none" stroke="#000" stroke-width="1.1"/>
<path d="M204 876L209 879L210 907.5" fill="none" stroke="#000" stroke-width="1.1"/>
<circle cx="101" cy="833.3" r="0.9"/><circle cx="203.8" cy="892.2" r="0.9"/>
<!-- emblem -->
<g transform="translate(168.2 797.7) rotate(27)">
<ellipse cx="0" cy="0" rx="22.5" ry="13" fill="#fff" stroke="#000" stroke-width="1.4"/>
<ellipse cx="0" cy="0" rx="19.5" ry="10.3" fill="none" stroke="#000" stroke-width="1.1"/>
<g stroke="#000" stroke-width="0.9">
<path d="M-15 -5.5L-15 5.5M-12.5 -7.5L-12.5 7.5M-10 -8.5L-10 8.5M-7.5 -9.2L-7.5 9.2M-5 -9.7L-5 9.7M-2.5 -10L-2.5 10M5 -9.7L5 9.7M7.5 -9.2L7.5 9.2M10 -8.5L10 8.5M12.5 -7.5L12.5 7.5M15 -5.5L15 5.5"/>
</g>
<path d="M-8 -8C-2 -6 4 -7 9 -9C8 -3 4 2 -3 4Z" fill="#fff" stroke="#000" stroke-width="1.3"/>
<path d="M-3 4L-9 9M-11 6C-5 9 3 8 8 4" fill="none" stroke="#000" stroke-width="1.6"/>
</g>

<g font-size="23" text-anchor="middle">
<text x="329.5" y="40.7">3</text>
<text x="437.1" y="40.6">2</text>
<text x="929.5" y="1019.6">1</text>
<text x="1020.9" y="1019.6">3</text>
<text x="1125.5" y="1019.6">4</text>
</g>
<g font-size="20" text-anchor="middle">
<text x="299.5" y="238.8">x</text>
<text x="1075.8" y="768">x</text>
</g>

</svg>
</body></html>
